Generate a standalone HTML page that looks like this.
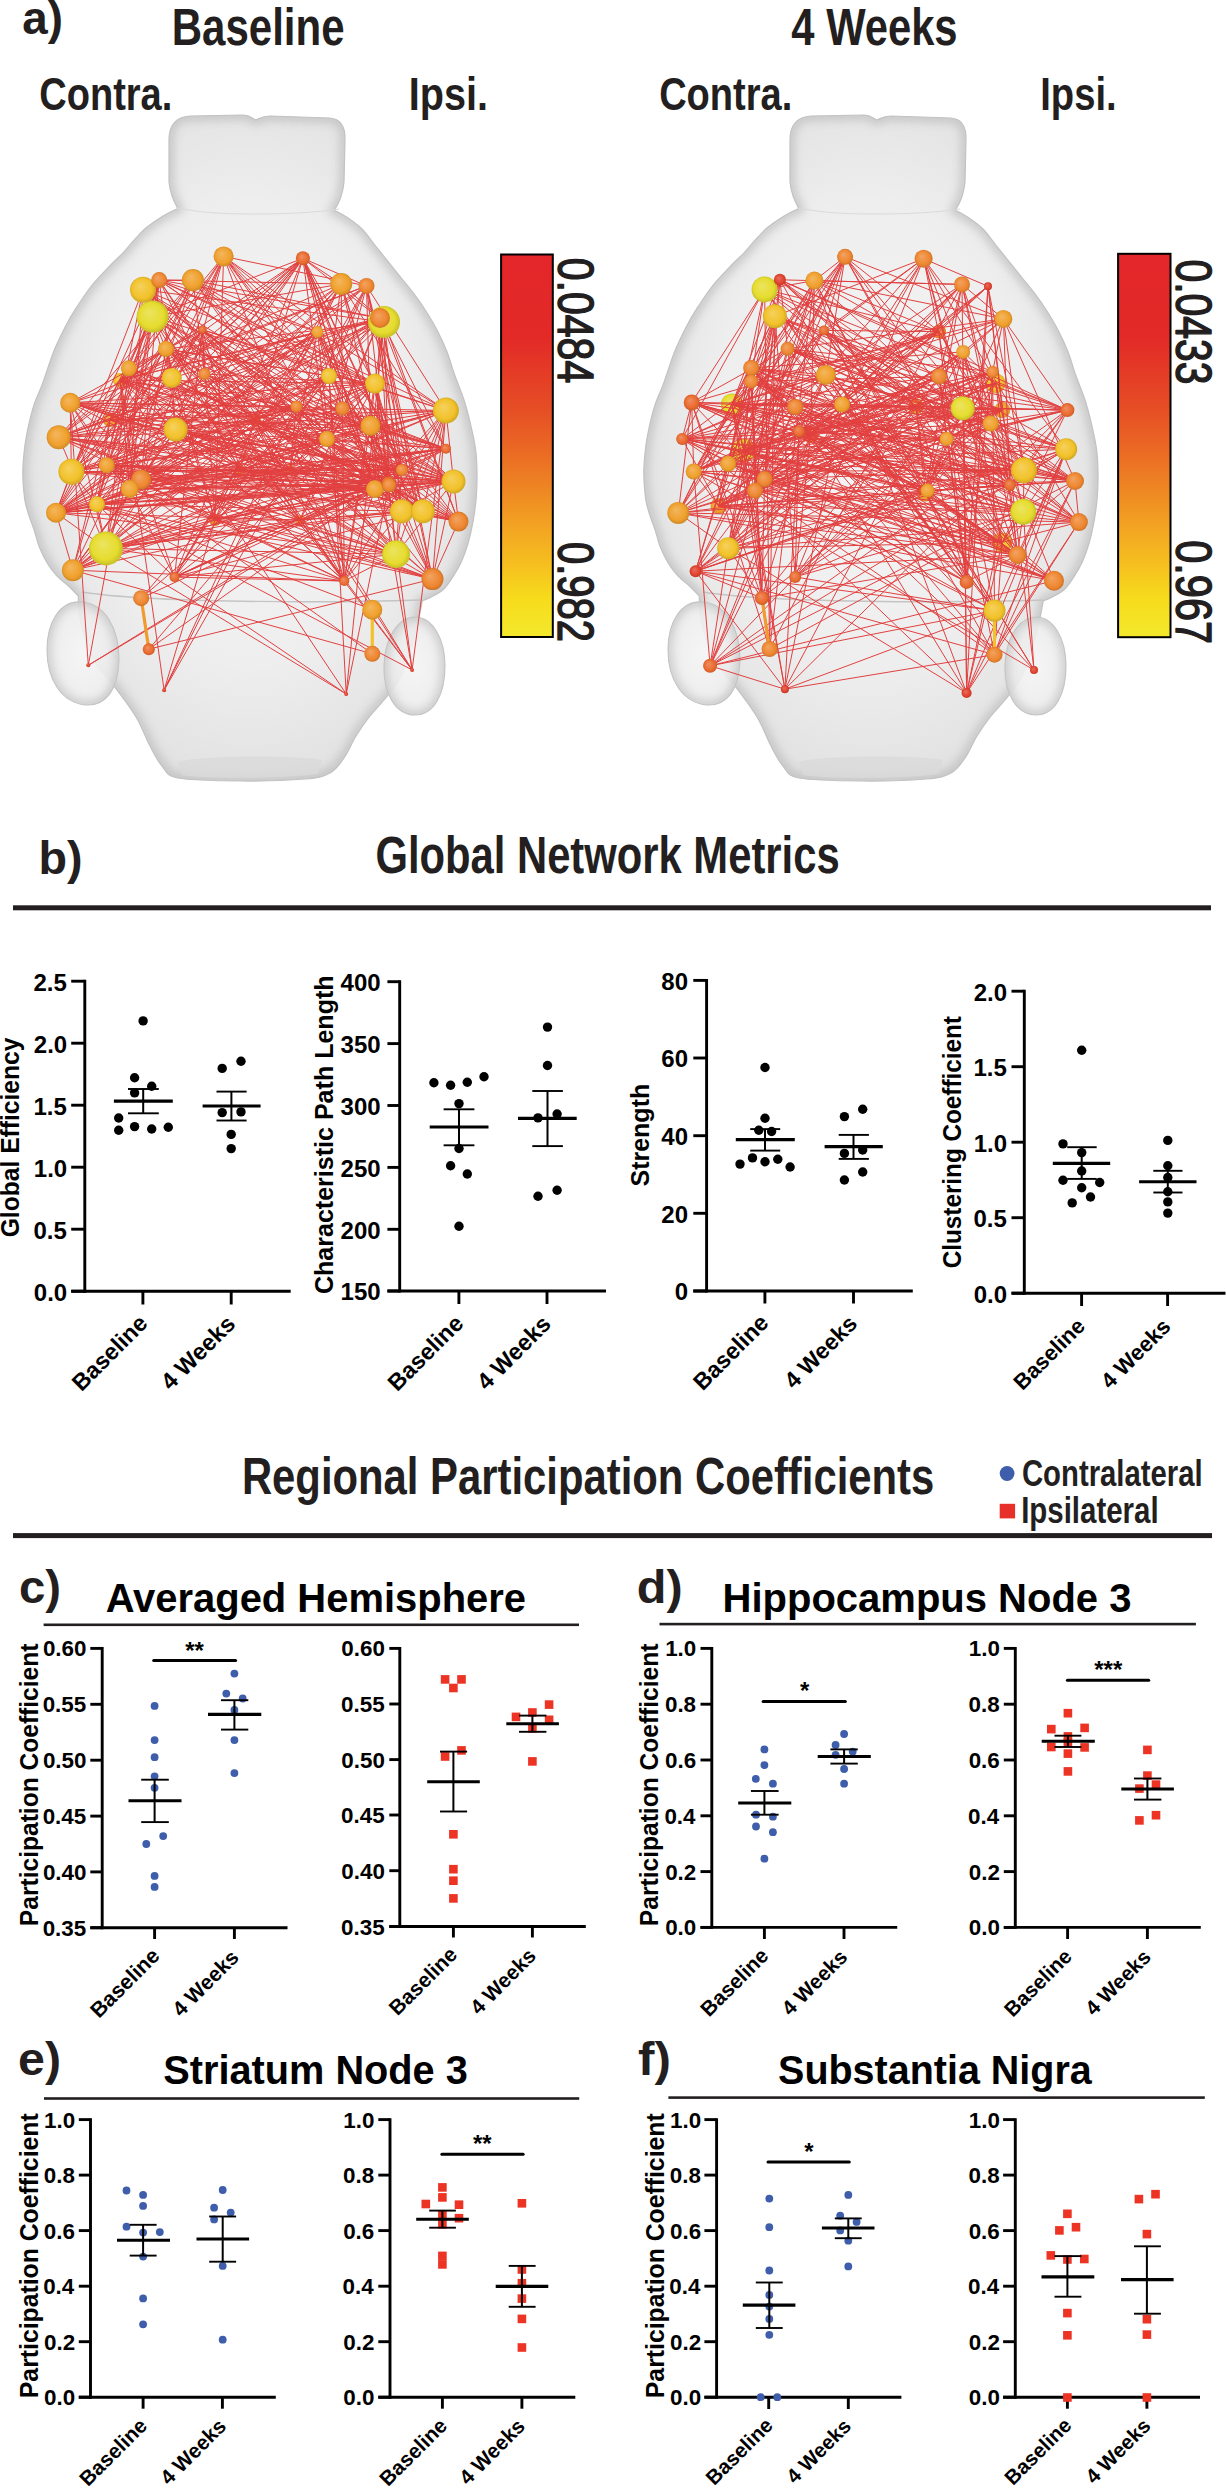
<!DOCTYPE html>
<html><head><meta charset="utf-8"><style>
html,body{margin:0;padding:0;background:#fff;}
svg{display:block;}
text{font-family:"Liberation Sans",sans-serif;}
</style></head><body>
<svg width="1226" height="2488" viewBox="0 0 1226 2488">
<defs>
<linearGradient id="cbar" x1="0" y1="0" x2="0" y2="1">
<stop offset="0" stop-color="#e3262a"/><stop offset="0.22" stop-color="#e32a27"/><stop offset="0.40" stop-color="#e64d25"/>
<stop offset="0.52" stop-color="#eb6b24"/><stop offset="0.62" stop-color="#ee8823"/><stop offset="0.72" stop-color="#f3a622"/>
<stop offset="0.82" stop-color="#f6c21f"/><stop offset="0.90" stop-color="#f6dc1c"/><stop offset="1" stop-color="#f4e82c"/>
</linearGradient>
<clipPath id="bclip"><path d="M 169,140 C 169,124 176,117 190,116 L 243,115 C 250,115 253,119 256,120 C 259,119 262,116 270,116 L 330,118 C 340,119 345,126 345,138 L 344,182 C 343,192 340,202 334.3,210.2 C 336.5,211.4 342.7,214.4 347.3,217.5 C 351.9,220.6 357.4,224.4 362.0,229.0 C 366.6,233.6 370.6,239.9 375.0,245.3 C 379.4,250.7 383.8,256.2 388.1,261.6 C 392.5,267.0 396.8,272.5 401.1,277.9 C 405.5,283.3 410.1,288.8 414.2,294.2 C 418.3,299.6 421.8,304.5 425.6,310.5 C 429.4,316.5 433.5,323.2 437.0,330.0 C 440.5,336.8 443.8,343.7 446.8,351.3 C 449.8,358.9 452.1,367.7 455.0,375.8 C 457.9,383.9 461.5,392.3 464.0,400.0 C 466.5,407.7 468.1,413.9 470.0,422.0 C 471.9,430.1 474.3,440.3 475.5,448.9 C 476.7,457.5 476.9,465.2 477.0,473.4 C 477.1,481.6 476.9,489.8 476.2,497.9 C 475.5,506.0 474.3,514.7 472.9,522.3 C 471.5,529.9 469.9,537.1 468.0,543.6 C 466.1,550.1 463.9,556.1 461.5,561.5 C 459.1,566.9 456.3,571.6 453.3,576.2 C 450.3,580.8 447.4,585.7 443.6,589.2 C 439.8,592.7 434.1,595.5 430.5,597.4 C 426.9,599.3 423.7,600.2 422.3,600.7 C 421.6,604.2 420.1,613.5 418.0,622.0 C 415.9,630.5 413.0,642.7 410.0,652.0 C 407.0,661.3 404.3,670.0 400.0,678.0 C 395.7,686.0 389.0,693.7 384.0,700.0 C 379.0,706.3 374.7,710.0 370.0,716.0 C 365.3,722.0 360.3,729.0 356.0,736.0 C 351.7,743.0 348.3,751.8 344.0,758.0 C 339.7,764.2 336.5,769.5 330.0,773.0 C 323.5,776.5 320.0,777.7 305.0,779.0 C 290.0,780.3 261.2,781.2 240.0,781.0 C 218.8,780.8 191.0,780.5 178.0,778.0 C 165.0,775.5 166.7,771.3 162.0,766.0 C 157.3,760.7 154.3,754.2 150.0,746.0 C 145.7,737.8 142.0,727.0 136.0,717.0 C 130.0,707.0 120.7,694.8 114.0,686.0 C 107.3,677.2 101.0,672.3 96.0,664.0 C 91.0,655.7 86.8,644.7 84.0,636.0 C 81.2,627.3 80.0,618.7 79.0,612.0 C 78.0,605.3 78.4,598.7 78.3,596.0 C 76.7,594.3 72.0,589.3 68.5,586.0 C 65.0,582.7 60.6,580.0 57.1,576.2 C 53.6,572.4 50.3,568.0 47.3,563.1 C 44.3,558.2 41.4,552.2 39.2,546.8 C 37.0,541.4 36.1,535.9 34.3,530.5 C 32.5,525.1 30.1,519.6 28.5,514.2 C 26.9,508.8 25.4,504.7 24.5,497.9 C 23.6,491.1 22.8,481.6 22.8,473.4 C 22.8,465.2 23.6,456.8 24.5,448.9 C 25.4,441.0 26.9,433.3 28.5,426.0 C 30.1,418.7 31.7,412.0 34.0,405.0 C 36.3,398.0 39.1,392.8 42.4,383.9 C 45.7,374.9 50.0,360.8 53.8,351.3 C 57.6,341.8 61.5,334.2 65.3,326.8 C 69.1,319.4 72.3,314.0 76.7,307.2 C 81.1,300.4 86.2,292.5 91.4,286.0 C 96.6,279.5 102.3,273.8 107.7,268.1 C 113.1,262.4 119.4,256.7 124.0,251.8 C 128.6,246.9 131.6,242.8 135.4,238.7 C 139.2,234.6 142.2,231.1 146.8,227.3 C 151.4,223.5 157.9,219.0 163.1,215.9 C 168.3,212.8 175.4,209.7 177.8,208.5 C 174,202 170,192 169,182 Z"/></clipPath>
<clipPath id="lclip"><path d="M 82,602 C 60,600 47,622 47,650 C 47,680 62,703 86,705 C 106,706 118,690 119,660 C 119,628 105,604 82,602 Z"/></clipPath>
<clipPath id="rclip"><path d="M 415,617 C 398,617 385,638 384,665 C 383,694 396,715 415,715 C 434,715 445,694 445,666 C 445,638 432,617 415,617 Z"/></clipPath>
<filter id="soft" x="-10%" y="-10%" width="120%" height="120%"><feGaussianBlur stdDeviation="4"/></filter>
<radialGradient id="brainfill" cx="50%" cy="48%" r="58%">
<stop offset="0" stop-color="#f5f5f5"/><stop offset="0.6" stop-color="#eeeeee"/><stop offset="0.88" stop-color="#e3e3e3"/><stop offset="1" stop-color="#d3d3d3"/>
</radialGradient>
<radialGradient id="lobefill" cx="50%" cy="50%" r="60%">
<stop offset="0" stop-color="#f4f4f4"/><stop offset="0.75" stop-color="#ececec"/><stop offset="1" stop-color="#dadada"/>
</radialGradient>
<radialGradient id="g0" cx="50%" cy="50%" r="55%" fx="38%" fy="35%"><stop offset="0" stop-color="#f3b760"/><stop offset="0.7" stop-color="#f0a02c"/><stop offset="1" stop-color="#c48324"/></radialGradient><radialGradient id="g1" cx="50%" cy="50%" r="55%" fx="38%" fy="35%"><stop offset="0" stop-color="#f5d15f"/><stop offset="0.7" stop-color="#f2c22a"/><stop offset="1" stop-color="#c69f22"/></radialGradient><radialGradient id="g2" cx="50%" cy="50%" r="55%" fx="38%" fy="35%"><stop offset="0" stop-color="#f2a463"/><stop offset="0.7" stop-color="#ee8630"/><stop offset="1" stop-color="#c36d27"/></radialGradient><radialGradient id="g3" cx="50%" cy="50%" r="55%" fx="38%" fy="35%"><stop offset="0" stop-color="#ece462"/><stop offset="0.7" stop-color="#e6dc2e"/><stop offset="1" stop-color="#bcb425"/></radialGradient><radialGradient id="g4" cx="50%" cy="50%" r="55%" fx="38%" fy="35%"><stop offset="0" stop-color="#ef8f62"/><stop offset="0.7" stop-color="#ea6a2e"/><stop offset="1" stop-color="#bf5625"/></radialGradient><radialGradient id="g5" cx="50%" cy="50%" r="55%" fx="38%" fy="35%"><stop offset="0" stop-color="#e76f60"/><stop offset="0.7" stop-color="#e0402c"/><stop offset="1" stop-color="#b73424"/></radialGradient>
</defs>
<rect width="1226" height="2488" fill="#fff"/>
<text transform="translate(22.36,34.20) scale(0.9956,1)" font-size="46" font-weight="bold" fill="#231f20">a)</text>
<text transform="translate(171.69,45.00) scale(0.8212,1)" font-size="51.2" font-weight="bold" fill="#231f20">Baseline</text>
<text transform="translate(791.37,45.30) scale(0.8146,1)" font-size="51.2" font-weight="bold" fill="#231f20">4 Weeks</text>
<text transform="translate(39.24,109.50) scale(0.8266,1)" font-size="46" font-weight="bold" fill="#231f20">Contra.</text>
<text transform="translate(408.75,109.80) scale(0.8604,1)" font-size="46" font-weight="bold" fill="#231f20">Ipsi.</text>
<text transform="translate(659.14,109.50) scale(0.8272,1)" font-size="46" font-weight="bold" fill="#231f20">Contra.</text>
<text transform="translate(1040.25,109.80) scale(0.8300,1)" font-size="46" font-weight="bold" fill="#231f20">Ipsi.</text>
<g transform="translate(0,0)">
<path d="M 169,140 C 169,124 176,117 190,116 L 243,115 C 250,115 253,119 256,120 C 259,119 262,116 270,116 L 330,118 C 340,119 345,126 345,138 L 344,182 C 343,192 340,202 334.3,210.2 C 336.5,211.4 342.7,214.4 347.3,217.5 C 351.9,220.6 357.4,224.4 362.0,229.0 C 366.6,233.6 370.6,239.9 375.0,245.3 C 379.4,250.7 383.8,256.2 388.1,261.6 C 392.5,267.0 396.8,272.5 401.1,277.9 C 405.5,283.3 410.1,288.8 414.2,294.2 C 418.3,299.6 421.8,304.5 425.6,310.5 C 429.4,316.5 433.5,323.2 437.0,330.0 C 440.5,336.8 443.8,343.7 446.8,351.3 C 449.8,358.9 452.1,367.7 455.0,375.8 C 457.9,383.9 461.5,392.3 464.0,400.0 C 466.5,407.7 468.1,413.9 470.0,422.0 C 471.9,430.1 474.3,440.3 475.5,448.9 C 476.7,457.5 476.9,465.2 477.0,473.4 C 477.1,481.6 476.9,489.8 476.2,497.9 C 475.5,506.0 474.3,514.7 472.9,522.3 C 471.5,529.9 469.9,537.1 468.0,543.6 C 466.1,550.1 463.9,556.1 461.5,561.5 C 459.1,566.9 456.3,571.6 453.3,576.2 C 450.3,580.8 447.4,585.7 443.6,589.2 C 439.8,592.7 434.1,595.5 430.5,597.4 C 426.9,599.3 423.7,600.2 422.3,600.7 C 421.6,604.2 420.1,613.5 418.0,622.0 C 415.9,630.5 413.0,642.7 410.0,652.0 C 407.0,661.3 404.3,670.0 400.0,678.0 C 395.7,686.0 389.0,693.7 384.0,700.0 C 379.0,706.3 374.7,710.0 370.0,716.0 C 365.3,722.0 360.3,729.0 356.0,736.0 C 351.7,743.0 348.3,751.8 344.0,758.0 C 339.7,764.2 336.5,769.5 330.0,773.0 C 323.5,776.5 320.0,777.7 305.0,779.0 C 290.0,780.3 261.2,781.2 240.0,781.0 C 218.8,780.8 191.0,780.5 178.0,778.0 C 165.0,775.5 166.7,771.3 162.0,766.0 C 157.3,760.7 154.3,754.2 150.0,746.0 C 145.7,737.8 142.0,727.0 136.0,717.0 C 130.0,707.0 120.7,694.8 114.0,686.0 C 107.3,677.2 101.0,672.3 96.0,664.0 C 91.0,655.7 86.8,644.7 84.0,636.0 C 81.2,627.3 80.0,618.7 79.0,612.0 C 78.0,605.3 78.4,598.7 78.3,596.0 C 76.7,594.3 72.0,589.3 68.5,586.0 C 65.0,582.7 60.6,580.0 57.1,576.2 C 53.6,572.4 50.3,568.0 47.3,563.1 C 44.3,558.2 41.4,552.2 39.2,546.8 C 37.0,541.4 36.1,535.9 34.3,530.5 C 32.5,525.1 30.1,519.6 28.5,514.2 C 26.9,508.8 25.4,504.7 24.5,497.9 C 23.6,491.1 22.8,481.6 22.8,473.4 C 22.8,465.2 23.6,456.8 24.5,448.9 C 25.4,441.0 26.9,433.3 28.5,426.0 C 30.1,418.7 31.7,412.0 34.0,405.0 C 36.3,398.0 39.1,392.8 42.4,383.9 C 45.7,374.9 50.0,360.8 53.8,351.3 C 57.6,341.8 61.5,334.2 65.3,326.8 C 69.1,319.4 72.3,314.0 76.7,307.2 C 81.1,300.4 86.2,292.5 91.4,286.0 C 96.6,279.5 102.3,273.8 107.7,268.1 C 113.1,262.4 119.4,256.7 124.0,251.8 C 128.6,246.9 131.6,242.8 135.4,238.7 C 139.2,234.6 142.2,231.1 146.8,227.3 C 151.4,223.5 157.9,219.0 163.1,215.9 C 168.3,212.8 175.4,209.7 177.8,208.5 C 174,202 170,192 169,182 Z" fill="url(#brainfill)"/>
<path d="M 169,140 C 169,124 176,117 190,116 L 243,115 C 250,115 253,119 256,120 C 259,119 262,116 270,116 L 330,118 C 340,119 345,126 345,138 L 344,182 C 343,192 340,202 334.3,210.2 C 336.5,211.4 342.7,214.4 347.3,217.5 C 351.9,220.6 357.4,224.4 362.0,229.0 C 366.6,233.6 370.6,239.9 375.0,245.3 C 379.4,250.7 383.8,256.2 388.1,261.6 C 392.5,267.0 396.8,272.5 401.1,277.9 C 405.5,283.3 410.1,288.8 414.2,294.2 C 418.3,299.6 421.8,304.5 425.6,310.5 C 429.4,316.5 433.5,323.2 437.0,330.0 C 440.5,336.8 443.8,343.7 446.8,351.3 C 449.8,358.9 452.1,367.7 455.0,375.8 C 457.9,383.9 461.5,392.3 464.0,400.0 C 466.5,407.7 468.1,413.9 470.0,422.0 C 471.9,430.1 474.3,440.3 475.5,448.9 C 476.7,457.5 476.9,465.2 477.0,473.4 C 477.1,481.6 476.9,489.8 476.2,497.9 C 475.5,506.0 474.3,514.7 472.9,522.3 C 471.5,529.9 469.9,537.1 468.0,543.6 C 466.1,550.1 463.9,556.1 461.5,561.5 C 459.1,566.9 456.3,571.6 453.3,576.2 C 450.3,580.8 447.4,585.7 443.6,589.2 C 439.8,592.7 434.1,595.5 430.5,597.4 C 426.9,599.3 423.7,600.2 422.3,600.7 C 421.6,604.2 420.1,613.5 418.0,622.0 C 415.9,630.5 413.0,642.7 410.0,652.0 C 407.0,661.3 404.3,670.0 400.0,678.0 C 395.7,686.0 389.0,693.7 384.0,700.0 C 379.0,706.3 374.7,710.0 370.0,716.0 C 365.3,722.0 360.3,729.0 356.0,736.0 C 351.7,743.0 348.3,751.8 344.0,758.0 C 339.7,764.2 336.5,769.5 330.0,773.0 C 323.5,776.5 320.0,777.7 305.0,779.0 C 290.0,780.3 261.2,781.2 240.0,781.0 C 218.8,780.8 191.0,780.5 178.0,778.0 C 165.0,775.5 166.7,771.3 162.0,766.0 C 157.3,760.7 154.3,754.2 150.0,746.0 C 145.7,737.8 142.0,727.0 136.0,717.0 C 130.0,707.0 120.7,694.8 114.0,686.0 C 107.3,677.2 101.0,672.3 96.0,664.0 C 91.0,655.7 86.8,644.7 84.0,636.0 C 81.2,627.3 80.0,618.7 79.0,612.0 C 78.0,605.3 78.4,598.7 78.3,596.0 C 76.7,594.3 72.0,589.3 68.5,586.0 C 65.0,582.7 60.6,580.0 57.1,576.2 C 53.6,572.4 50.3,568.0 47.3,563.1 C 44.3,558.2 41.4,552.2 39.2,546.8 C 37.0,541.4 36.1,535.9 34.3,530.5 C 32.5,525.1 30.1,519.6 28.5,514.2 C 26.9,508.8 25.4,504.7 24.5,497.9 C 23.6,491.1 22.8,481.6 22.8,473.4 C 22.8,465.2 23.6,456.8 24.5,448.9 C 25.4,441.0 26.9,433.3 28.5,426.0 C 30.1,418.7 31.7,412.0 34.0,405.0 C 36.3,398.0 39.1,392.8 42.4,383.9 C 45.7,374.9 50.0,360.8 53.8,351.3 C 57.6,341.8 61.5,334.2 65.3,326.8 C 69.1,319.4 72.3,314.0 76.7,307.2 C 81.1,300.4 86.2,292.5 91.4,286.0 C 96.6,279.5 102.3,273.8 107.7,268.1 C 113.1,262.4 119.4,256.7 124.0,251.8 C 128.6,246.9 131.6,242.8 135.4,238.7 C 139.2,234.6 142.2,231.1 146.8,227.3 C 151.4,223.5 157.9,219.0 163.1,215.9 C 168.3,212.8 175.4,209.7 177.8,208.5 C 174,202 170,192 169,182 Z" fill="none" stroke="#bdbdbd" stroke-width="10" clip-path="url(#bclip)" filter="url(#soft)" opacity="0.75"/>
<path d="M 169,140 C 169,124 176,117 190,116 L 243,115 C 250,115 253,119 256,120 C 259,119 262,116 270,116 L 330,118 C 340,119 345,126 345,138 L 344,182 C 343,192 340,202 334.3,210.2 C 336.5,211.4 342.7,214.4 347.3,217.5 C 351.9,220.6 357.4,224.4 362.0,229.0 C 366.6,233.6 370.6,239.9 375.0,245.3 C 379.4,250.7 383.8,256.2 388.1,261.6 C 392.5,267.0 396.8,272.5 401.1,277.9 C 405.5,283.3 410.1,288.8 414.2,294.2 C 418.3,299.6 421.8,304.5 425.6,310.5 C 429.4,316.5 433.5,323.2 437.0,330.0 C 440.5,336.8 443.8,343.7 446.8,351.3 C 449.8,358.9 452.1,367.7 455.0,375.8 C 457.9,383.9 461.5,392.3 464.0,400.0 C 466.5,407.7 468.1,413.9 470.0,422.0 C 471.9,430.1 474.3,440.3 475.5,448.9 C 476.7,457.5 476.9,465.2 477.0,473.4 C 477.1,481.6 476.9,489.8 476.2,497.9 C 475.5,506.0 474.3,514.7 472.9,522.3 C 471.5,529.9 469.9,537.1 468.0,543.6 C 466.1,550.1 463.9,556.1 461.5,561.5 C 459.1,566.9 456.3,571.6 453.3,576.2 C 450.3,580.8 447.4,585.7 443.6,589.2 C 439.8,592.7 434.1,595.5 430.5,597.4 C 426.9,599.3 423.7,600.2 422.3,600.7 C 421.6,604.2 420.1,613.5 418.0,622.0 C 415.9,630.5 413.0,642.7 410.0,652.0 C 407.0,661.3 404.3,670.0 400.0,678.0 C 395.7,686.0 389.0,693.7 384.0,700.0 C 379.0,706.3 374.7,710.0 370.0,716.0 C 365.3,722.0 360.3,729.0 356.0,736.0 C 351.7,743.0 348.3,751.8 344.0,758.0 C 339.7,764.2 336.5,769.5 330.0,773.0 C 323.5,776.5 320.0,777.7 305.0,779.0 C 290.0,780.3 261.2,781.2 240.0,781.0 C 218.8,780.8 191.0,780.5 178.0,778.0 C 165.0,775.5 166.7,771.3 162.0,766.0 C 157.3,760.7 154.3,754.2 150.0,746.0 C 145.7,737.8 142.0,727.0 136.0,717.0 C 130.0,707.0 120.7,694.8 114.0,686.0 C 107.3,677.2 101.0,672.3 96.0,664.0 C 91.0,655.7 86.8,644.7 84.0,636.0 C 81.2,627.3 80.0,618.7 79.0,612.0 C 78.0,605.3 78.4,598.7 78.3,596.0 C 76.7,594.3 72.0,589.3 68.5,586.0 C 65.0,582.7 60.6,580.0 57.1,576.2 C 53.6,572.4 50.3,568.0 47.3,563.1 C 44.3,558.2 41.4,552.2 39.2,546.8 C 37.0,541.4 36.1,535.9 34.3,530.5 C 32.5,525.1 30.1,519.6 28.5,514.2 C 26.9,508.8 25.4,504.7 24.5,497.9 C 23.6,491.1 22.8,481.6 22.8,473.4 C 22.8,465.2 23.6,456.8 24.5,448.9 C 25.4,441.0 26.9,433.3 28.5,426.0 C 30.1,418.7 31.7,412.0 34.0,405.0 C 36.3,398.0 39.1,392.8 42.4,383.9 C 45.7,374.9 50.0,360.8 53.8,351.3 C 57.6,341.8 61.5,334.2 65.3,326.8 C 69.1,319.4 72.3,314.0 76.7,307.2 C 81.1,300.4 86.2,292.5 91.4,286.0 C 96.6,279.5 102.3,273.8 107.7,268.1 C 113.1,262.4 119.4,256.7 124.0,251.8 C 128.6,246.9 131.6,242.8 135.4,238.7 C 139.2,234.6 142.2,231.1 146.8,227.3 C 151.4,223.5 157.9,219.0 163.1,215.9 C 168.3,212.8 175.4,209.7 177.8,208.5 C 174,202 170,192 169,182 Z" fill="none" stroke="#c2c2c2" stroke-width="1.2"/>
<path d="M 82,602 C 60,600 47,622 47,650 C 47,680 62,703 86,705 C 106,706 118,690 119,660 C 119,628 105,604 82,602 Z" fill="url(#lobefill)" fill-opacity="0.9"/>
<path d="M 82,602 C 60,600 47,622 47,650 C 47,680 62,703 86,705 C 106,706 118,690 119,660 C 119,628 105,604 82,602 Z" fill="none" stroke="#bdbdbd" stroke-width="8" clip-path="url(#lclip)" filter="url(#soft)" opacity="0.7"/>
<path d="M 82,602 C 60,600 47,622 47,650 C 47,680 62,703 86,705 C 106,706 118,690 119,660 C 119,628 105,604 82,602 Z" fill="none" stroke="#c4c4c4" stroke-width="1.1"/>
<path d="M 415,617 C 398,617 385,638 384,665 C 383,694 396,715 415,715 C 434,715 445,694 445,666 C 445,638 432,617 415,617 Z" fill="url(#lobefill)" fill-opacity="0.9"/>
<path d="M 415,617 C 398,617 385,638 384,665 C 383,694 396,715 415,715 C 434,715 445,694 445,666 C 445,638 432,617 415,617 Z" fill="none" stroke="#bdbdbd" stroke-width="8" clip-path="url(#rclip)" filter="url(#soft)" opacity="0.7"/>
<path d="M 415,617 C 398,617 385,638 384,665 C 383,694 396,715 415,715 C 434,715 445,694 445,666 C 445,638 432,617 415,617 Z" fill="none" stroke="#c4c4c4" stroke-width="1.1"/>
<path d="M 178,762 C 200,755 300,755 322,760 L 318,774 C 280,779 205,779 182,775 Z" fill="#dadada" opacity="0.8"/>
<path d="M 82,592 C 150,603 330,603 422,600" fill="none" stroke="#c4c4c4" stroke-width="1.4"/>
<path d="M 176,208 C 200,212 215,214 256,214 C 290,214 320,212 339,209" fill="none" stroke="#dadada" stroke-width="1"/>
</g>
<circle cx="110" cy="420" r="7" fill="url(#g0)"/>
<circle cx="120" cy="380" r="7" fill="url(#g1)"/>
<circle cx="255" cy="420" r="6" fill="url(#g0)"/>
<circle cx="215" cy="520" r="6" fill="url(#g2)"/>
<circle cx="240" cy="470" r="5" fill="url(#g2)"/>
<circle cx="290" cy="470" r="5" fill="url(#g0)"/>
<circle cx="300" cy="520" r="5" fill="url(#g0)"/>
<path d="M223.6 256.4L366.5 285.9 M223.6 256.4L166.0 349.0 M223.6 256.4L171.8 377.9 M223.6 256.4L175.6 429.6 M223.6 256.4L445.9 410.5 M223.6 256.4L329.0 376.0 M223.6 256.4L317.5 331.9 M223.6 256.4L327.0 439.0 M223.6 256.4L453.5 481.4 M223.6 256.4L141.2 479.5 M223.6 256.4L72.9 570.2 M223.6 256.4L344.3 581.0 M223.6 256.4L422.9 511.2 M223.6 256.4L389.1 485.2 M223.6 256.4L215.0 520.0 M223.6 256.4L110.0 420.0 M223.6 256.4L120.0 380.0 M302.9 258.3L152.6 316.6 M302.9 258.3L341.2 284.0 M302.9 258.3L366.5 285.9 M302.9 258.3L384.0 322.0 M302.9 258.3L204.4 374.0 M302.9 258.3L171.8 377.9 M302.9 258.3L58.7 437.3 M302.9 258.3L71.4 471.7 M302.9 258.3L342.4 408.5 M302.9 258.3L370.4 425.8 M302.9 258.3L375.0 383.6 M302.9 258.3L327.0 439.0 M302.9 258.3L401.8 469.9 M302.9 258.3L375.0 489.0 M302.9 258.3L106.7 465.2 M302.9 258.3L97.0 504.3 M302.9 258.3L105.9 548.4 M302.9 258.3L72.9 570.2 M302.9 258.3L174.5 577.1 M302.9 258.3L432.5 579.1 M302.9 258.3L396.0 554.2 M302.9 258.3L422.9 511.2 M302.9 258.3L389.1 485.2 M302.9 258.3L240.0 470.0 M302.9 258.3L110.0 420.0 M302.9 258.3L120.0 380.0 M159.2 280.1L192.9 280.1 M159.2 280.1L341.2 284.0 M159.2 280.1L380.0 318.0 M159.2 280.1L204.4 374.0 M159.2 280.1L128.9 368.3 M159.2 280.1L171.8 377.9 M159.2 280.1L71.4 471.7 M159.2 280.1L342.4 408.5 M159.2 280.1L370.4 425.8 M159.2 280.1L445.9 410.5 M159.2 280.1L375.0 383.6 M159.2 280.1L317.5 331.9 M159.2 280.1L141.2 479.5 M159.2 280.1L97.0 504.3 M159.2 280.1L105.9 548.4 M159.2 280.1L72.9 570.2 M159.2 280.1L88.3 665.3 M159.2 280.1L412.1 669.9 M159.2 280.1L255.0 420.0 M143.0 289.7L384.0 322.0 M143.0 289.7L296.4 406.6 M143.0 289.7L370.4 425.8 M143.0 289.7L375.0 383.6 M143.0 289.7L129.7 489.0 M143.0 289.7L401.8 469.9 M143.0 289.7L388.4 483.3 M143.0 289.7L106.7 465.2 M143.0 289.7L56.0 512.8 M143.0 289.7L396.0 554.2 M143.0 289.7L255.0 420.0 M143.0 289.7L240.0 470.0 M143.0 289.7L215.0 520.0 M143.0 289.7L300.0 520.0 M192.9 280.1L380.0 318.0 M192.9 280.1L204.4 374.0 M192.9 280.1L128.9 368.3 M192.9 280.1L58.7 437.3 M192.9 280.1L71.4 471.7 M192.9 280.1L296.4 406.6 M192.9 280.1L370.4 425.8 M192.9 280.1L329.0 376.0 M192.9 280.1L375.0 383.6 M192.9 280.1L317.5 331.9 M192.9 280.1L106.7 465.2 M192.9 280.1L97.0 504.3 M192.9 280.1L105.9 548.4 M192.9 280.1L396.0 554.2 M192.9 280.1L422.9 511.2 M152.6 316.6L341.2 284.0 M152.6 316.6L166.0 349.0 M152.6 316.6L71.4 471.7 M152.6 316.6L370.4 425.8 M152.6 316.6L445.9 410.5 M152.6 316.6L453.5 481.4 M152.6 316.6L129.7 489.0 M152.6 316.6L388.4 483.3 M152.6 316.6L375.0 489.0 M152.6 316.6L56.0 512.8 M152.6 316.6L97.0 504.3 M152.6 316.6L344.3 581.0 M152.6 316.6L422.9 511.2 M152.6 316.6L240.0 470.0 M152.6 316.6L110.0 420.0 M341.2 284.0L380.0 318.0 M341.2 284.0L71.4 471.7 M341.2 284.0L329.0 376.0 M341.2 284.0L317.5 331.9 M341.2 284.0L401.8 469.9 M341.2 284.0L388.4 483.3 M341.2 284.0L56.0 512.8 M341.2 284.0L105.9 548.4 M341.2 284.0L72.9 570.2 M341.2 284.0L174.5 577.1 M341.2 284.0L344.3 581.0 M341.2 284.0L432.5 579.1 M341.2 284.0L445.9 448.7 M341.2 284.0L255.0 420.0 M341.2 284.0L120.0 380.0 M366.5 285.9L70.2 402.8 M366.5 285.9L71.4 471.7 M366.5 285.9L296.4 406.6 M366.5 285.9L370.4 425.8 M366.5 285.9L445.9 410.5 M366.5 285.9L327.0 439.0 M366.5 285.9L129.7 489.0 M366.5 285.9L401.8 469.9 M366.5 285.9L56.0 512.8 M366.5 285.9L164.1 690.2 M366.5 285.9L432.5 579.1 M366.5 285.9L422.9 511.2 M366.5 285.9L389.1 485.2 M366.5 285.9L290.0 470.0 M366.5 285.9L120.0 380.0 M384.0 322.0L166.0 349.0 M384.0 322.0L58.7 437.3 M384.0 322.0L175.6 429.6 M384.0 322.0L296.4 406.6 M384.0 322.0L401.8 469.9 M384.0 322.0L344.3 581.0 M384.0 322.0L346.2 694.0 M384.0 322.0L458.5 521.6 M384.0 322.0L389.1 485.2 M380.0 318.0L204.4 374.0 M380.0 318.0L171.8 377.9 M380.0 318.0L58.7 437.3 M380.0 318.0L175.6 429.6 M380.0 318.0L296.4 406.6 M380.0 318.0L342.4 408.5 M380.0 318.0L129.7 489.0 M380.0 318.0L375.0 489.0 M380.0 318.0L56.0 512.8 M380.0 318.0L105.9 548.4 M380.0 318.0L141.2 598.2 M380.0 318.0L432.5 579.1 M380.0 318.0L458.5 521.6 M380.0 318.0L401.8 511.2 M380.0 318.0L422.9 511.2 M380.0 318.0L389.1 485.2 M380.0 318.0L445.9 448.7 M380.0 318.0L300.0 520.0 M380.0 318.0L120.0 380.0 M204.4 374.0L58.7 437.3 M204.4 374.0L375.0 383.6 M204.4 374.0L453.5 481.4 M204.4 374.0L141.2 479.5 M204.4 374.0L401.8 469.9 M204.4 374.0L56.0 512.8 M204.4 374.0L344.3 581.0 M204.4 374.0L432.5 579.1 M204.4 374.0L445.9 448.7 M204.4 374.0L255.0 420.0 M204.4 374.0L300.0 520.0 M204.4 374.0L202.4 329.7 M204.4 374.0L110.0 420.0 M166.0 349.0L171.8 377.9 M166.0 349.0L58.7 437.3 M166.0 349.0L175.6 429.6 M166.0 349.0L329.0 376.0 M166.0 349.0L375.0 383.6 M166.0 349.0L453.5 481.4 M166.0 349.0L141.2 479.5 M166.0 349.0L375.0 489.0 M166.0 349.0L56.0 512.8 M166.0 349.0L412.1 669.9 M166.0 349.0L432.5 579.1 M166.0 349.0L422.9 511.2 M166.0 349.0L445.9 448.7 M166.0 349.0L255.0 420.0 M166.0 349.0L290.0 470.0 M166.0 349.0L215.0 520.0 M166.0 349.0L110.0 420.0 M166.0 349.0L120.0 380.0 M128.9 368.3L175.6 429.6 M128.9 368.3L327.0 439.0 M128.9 368.3L401.8 469.9 M128.9 368.3L105.9 548.4 M128.9 368.3L346.2 694.0 M128.9 368.3L389.1 485.2 M128.9 368.3L240.0 470.0 M128.9 368.3L290.0 470.0 M128.9 368.3L202.4 329.7 M128.9 368.3L120.0 380.0 M171.8 377.9L175.6 429.6 M171.8 377.9L71.4 471.7 M171.8 377.9L396.0 554.2 M171.8 377.9L458.5 521.6 M171.8 377.9L422.9 511.2 M171.8 377.9L445.9 448.7 M171.8 377.9L255.0 420.0 M171.8 377.9L240.0 470.0 M171.8 377.9L300.0 520.0 M171.8 377.9L202.4 329.7 M70.2 402.8L175.6 429.6 M70.2 402.8L71.4 471.7 M70.2 402.8L296.4 406.6 M70.2 402.8L342.4 408.5 M70.2 402.8L370.4 425.8 M70.2 402.8L375.0 383.6 M70.2 402.8L317.5 331.9 M70.2 402.8L327.0 439.0 M70.2 402.8L453.5 481.4 M70.2 402.8L129.7 489.0 M70.2 402.8L106.7 465.2 M70.2 402.8L105.9 548.4 M70.2 402.8L88.3 665.3 M70.2 402.8L458.5 521.6 M70.2 402.8L401.8 511.2 M70.2 402.8L389.1 485.2 M70.2 402.8L290.0 470.0 M70.2 402.8L215.0 520.0 M70.2 402.8L300.0 520.0 M70.2 402.8L202.4 329.7 M58.7 437.3L296.4 406.6 M58.7 437.3L370.4 425.8 M58.7 437.3L329.0 376.0 M58.7 437.3L453.5 481.4 M58.7 437.3L141.2 479.5 M58.7 437.3L401.8 469.9 M58.7 437.3L105.9 548.4 M58.7 437.3L432.5 579.1 M58.7 437.3L396.0 554.2 M58.7 437.3L458.5 521.6 M58.7 437.3L389.1 485.2 M58.7 437.3L255.0 420.0 M58.7 437.3L240.0 470.0 M58.7 437.3L110.0 420.0 M58.7 437.3L120.0 380.0 M175.6 429.6L296.4 406.6 M175.6 429.6L445.9 410.5 M175.6 429.6L317.5 331.9 M175.6 429.6L453.5 481.4 M175.6 429.6L141.2 479.5 M175.6 429.6L401.8 469.9 M175.6 429.6L388.4 483.3 M175.6 429.6L375.0 489.0 M175.6 429.6L56.0 512.8 M175.6 429.6L97.0 504.3 M175.6 429.6L72.9 570.2 M175.6 429.6L344.3 581.0 M175.6 429.6L432.5 579.1 M175.6 429.6L396.0 554.2 M175.6 429.6L422.9 511.2 M175.6 429.6L389.1 485.2 M175.6 429.6L445.9 448.7 M175.6 429.6L255.0 420.0 M175.6 429.6L240.0 470.0 M175.6 429.6L290.0 470.0 M175.6 429.6L300.0 520.0 M71.4 471.7L342.4 408.5 M71.4 471.7L370.4 425.8 M71.4 471.7L445.9 410.5 M71.4 471.7L329.0 376.0 M71.4 471.7L375.0 383.6 M71.4 471.7L401.8 469.9 M71.4 471.7L388.4 483.3 M71.4 471.7L375.0 489.0 M71.4 471.7L56.0 512.8 M71.4 471.7L97.0 504.3 M71.4 471.7L422.9 511.2 M71.4 471.7L255.0 420.0 M71.4 471.7L240.0 470.0 M71.4 471.7L290.0 470.0 M71.4 471.7L202.4 329.7 M71.4 471.7L120.0 380.0 M296.4 406.6L370.4 425.8 M296.4 406.6L329.0 376.0 M296.4 406.6L141.2 479.5 M296.4 406.6L106.7 465.2 M296.4 406.6L97.0 504.3 M296.4 406.6L72.9 570.2 M296.4 406.6L164.1 690.2 M296.4 406.6L344.3 581.0 M296.4 406.6L432.5 579.1 M296.4 406.6L401.8 511.2 M296.4 406.6L445.9 448.7 M296.4 406.6L255.0 420.0 M296.4 406.6L290.0 470.0 M296.4 406.6L215.0 520.0 M296.4 406.6L202.4 329.7 M296.4 406.6L120.0 380.0 M342.4 408.5L445.9 410.5 M342.4 408.5L375.0 383.6 M342.4 408.5L327.0 439.0 M342.4 408.5L401.8 469.9 M342.4 408.5L432.5 579.1 M342.4 408.5L445.9 448.7 M342.4 408.5L240.0 470.0 M342.4 408.5L290.0 470.0 M342.4 408.5L110.0 420.0 M370.4 425.8L329.0 376.0 M370.4 425.8L375.0 383.6 M370.4 425.8L327.0 439.0 M370.4 425.8L453.5 481.4 M370.4 425.8L375.0 489.0 M370.4 425.8L56.0 512.8 M370.4 425.8L174.5 577.1 M370.4 425.8L344.3 581.0 M370.4 425.8L412.1 669.9 M370.4 425.8L458.5 521.6 M370.4 425.8L401.8 511.2 M370.4 425.8L389.1 485.2 M370.4 425.8L445.9 448.7 M370.4 425.8L240.0 470.0 M370.4 425.8L110.0 420.0 M370.4 425.8L120.0 380.0 M445.9 410.5L317.5 331.9 M445.9 410.5L453.5 481.4 M445.9 410.5L129.7 489.0 M445.9 410.5L375.0 489.0 M445.9 410.5L56.0 512.8 M445.9 410.5L105.9 548.4 M445.9 410.5L72.9 570.2 M445.9 410.5L344.3 581.0 M445.9 410.5L412.1 669.9 M445.9 410.5L432.5 579.1 M445.9 410.5L396.0 554.2 M445.9 410.5L401.8 511.2 M445.9 410.5L422.9 511.2 M445.9 410.5L389.1 485.2 M445.9 410.5L240.0 470.0 M445.9 410.5L202.4 329.7 M445.9 410.5L110.0 420.0 M329.0 376.0L317.5 331.9 M329.0 376.0L453.5 481.4 M329.0 376.0L375.0 489.0 M329.0 376.0L56.0 512.8 M329.0 376.0L97.0 504.3 M329.0 376.0L72.9 570.2 M329.0 376.0L174.5 577.1 M329.0 376.0L344.3 581.0 M329.0 376.0L346.2 694.0 M329.0 376.0L422.9 511.2 M329.0 376.0L255.0 420.0 M375.0 383.6L327.0 439.0 M375.0 383.6L141.2 479.5 M375.0 383.6L401.8 469.9 M375.0 383.6L97.0 504.3 M375.0 383.6L72.9 570.2 M375.0 383.6L148.8 649.2 M375.0 383.6L412.1 669.9 M375.0 383.6L401.8 511.2 M375.0 383.6L389.1 485.2 M375.0 383.6L215.0 520.0 M375.0 383.6L300.0 520.0 M375.0 383.6L202.4 329.7 M375.0 383.6L110.0 420.0 M375.0 383.6L120.0 380.0 M317.5 331.9L141.2 479.5 M317.5 331.9L401.8 469.9 M317.5 331.9L375.0 489.0 M317.5 331.9L106.7 465.2 M317.5 331.9L56.0 512.8 M317.5 331.9L174.5 577.1 M317.5 331.9L344.3 581.0 M317.5 331.9L458.5 521.6 M317.5 331.9L401.8 511.2 M317.5 331.9L389.1 485.2 M317.5 331.9L255.0 420.0 M317.5 331.9L290.0 470.0 M317.5 331.9L215.0 520.0 M317.5 331.9L120.0 380.0 M327.0 439.0L453.5 481.4 M327.0 439.0L129.7 489.0 M327.0 439.0L375.0 489.0 M327.0 439.0L106.7 465.2 M327.0 439.0L105.9 548.4 M327.0 439.0L141.2 598.2 M327.0 439.0L458.5 521.6 M327.0 439.0L401.8 511.2 M327.0 439.0L422.9 511.2 M327.0 439.0L445.9 448.7 M327.0 439.0L255.0 420.0 M327.0 439.0L240.0 470.0 M327.0 439.0L215.0 520.0 M453.5 481.4L141.2 479.5 M453.5 481.4L129.7 489.0 M453.5 481.4L401.8 469.9 M453.5 481.4L375.0 489.0 M453.5 481.4L106.7 465.2 M453.5 481.4L56.0 512.8 M453.5 481.4L97.0 504.3 M453.5 481.4L105.9 548.4 M453.5 481.4L432.5 579.1 M453.5 481.4L396.0 554.2 M453.5 481.4L458.5 521.6 M453.5 481.4L401.8 511.2 M453.5 481.4L389.1 485.2 M453.5 481.4L240.0 470.0 M453.5 481.4L290.0 470.0 M453.5 481.4L215.0 520.0 M453.5 481.4L300.0 520.0 M453.5 481.4L202.4 329.7 M453.5 481.4L120.0 380.0 M141.2 479.5L129.7 489.0 M141.2 479.5L401.8 469.9 M141.2 479.5L375.0 489.0 M141.2 479.5L56.0 512.8 M141.2 479.5L72.9 570.2 M141.2 479.5L174.5 577.1 M141.2 479.5L432.5 579.1 M141.2 479.5L396.0 554.2 M141.2 479.5L445.9 448.7 M141.2 479.5L290.0 470.0 M141.2 479.5L120.0 380.0 M129.7 489.0L388.4 483.3 M129.7 489.0L375.0 489.0 M129.7 489.0L106.7 465.2 M129.7 489.0L56.0 512.8 M129.7 489.0L97.0 504.3 M129.7 489.0L105.9 548.4 M129.7 489.0L174.5 577.1 M129.7 489.0L432.5 579.1 M129.7 489.0L389.1 485.2 M129.7 489.0L445.9 448.7 M129.7 489.0L255.0 420.0 M129.7 489.0L240.0 470.0 M129.7 489.0L290.0 470.0 M129.7 489.0L215.0 520.0 M129.7 489.0L120.0 380.0 M401.8 469.9L388.4 483.3 M401.8 469.9L375.0 489.0 M401.8 469.9L106.7 465.2 M401.8 469.9L105.9 548.4 M401.8 469.9L174.5 577.1 M401.8 469.9L396.0 554.2 M401.8 469.9L458.5 521.6 M401.8 469.9L389.1 485.2 M401.8 469.9L255.0 420.0 M401.8 469.9L240.0 470.0 M401.8 469.9L215.0 520.0 M401.8 469.9L300.0 520.0 M401.8 469.9L110.0 420.0 M401.8 469.9L120.0 380.0 M388.4 483.3L375.0 489.0 M388.4 483.3L56.0 512.8 M388.4 483.3L97.0 504.3 M388.4 483.3L174.5 577.1 M388.4 483.3L396.0 554.2 M388.4 483.3L255.0 420.0 M388.4 483.3L300.0 520.0 M388.4 483.3L202.4 329.7 M375.0 489.0L106.7 465.2 M375.0 489.0L56.0 512.8 M375.0 489.0L97.0 504.3 M375.0 489.0L105.9 548.4 M375.0 489.0L174.5 577.1 M375.0 489.0L141.2 598.2 M375.0 489.0L148.8 649.2 M375.0 489.0L88.3 665.3 M375.0 489.0L344.3 581.0 M375.0 489.0L458.5 521.6 M375.0 489.0L401.8 511.2 M375.0 489.0L445.9 448.7 M375.0 489.0L240.0 470.0 M375.0 489.0L215.0 520.0 M375.0 489.0L300.0 520.0 M106.7 465.2L97.0 504.3 M106.7 465.2L344.3 581.0 M106.7 465.2L372.3 653.8 M106.7 465.2L396.0 554.2 M106.7 465.2L401.8 511.2 M106.7 465.2L389.1 485.2 M106.7 465.2L240.0 470.0 M106.7 465.2L215.0 520.0 M106.7 465.2L300.0 520.0 M106.7 465.2L202.4 329.7 M56.0 512.8L97.0 504.3 M56.0 512.8L105.9 548.4 M56.0 512.8L72.9 570.2 M56.0 512.8L396.0 554.2 M56.0 512.8L389.1 485.2 M56.0 512.8L445.9 448.7 M56.0 512.8L255.0 420.0 M56.0 512.8L290.0 470.0 M56.0 512.8L300.0 520.0 M56.0 512.8L202.4 329.7 M56.0 512.8L110.0 420.0 M97.0 504.3L105.9 548.4 M97.0 504.3L174.5 577.1 M97.0 504.3L344.3 581.0 M97.0 504.3L372.3 609.7 M97.0 504.3L412.1 669.9 M97.0 504.3L432.5 579.1 M97.0 504.3L401.8 511.2 M97.0 504.3L445.9 448.7 M97.0 504.3L240.0 470.0 M97.0 504.3L290.0 470.0 M97.0 504.3L110.0 420.0 M105.9 548.4L344.3 581.0 M105.9 548.4L346.2 694.0 M105.9 548.4L396.0 554.2 M105.9 548.4L401.8 511.2 M105.9 548.4L422.9 511.2 M105.9 548.4L445.9 448.7 M105.9 548.4L300.0 520.0 M72.9 570.2L344.3 581.0 M72.9 570.2L372.3 653.8 M72.9 570.2L445.9 448.7 M72.9 570.2L255.0 420.0 M72.9 570.2L290.0 470.0 M72.9 570.2L215.0 520.0 M72.9 570.2L300.0 520.0 M72.9 570.2L110.0 420.0 M174.5 577.1L344.3 581.0 M174.5 577.1L346.2 694.0 M174.5 577.1L396.0 554.2 M174.5 577.1L422.9 511.2 M174.5 577.1L445.9 448.7 M174.5 577.1L240.0 470.0 M174.5 577.1L202.4 329.7 M148.8 649.2L432.5 579.1 M88.3 665.3L389.1 485.2 M164.1 690.2L290.0 470.0 M164.1 690.2L215.0 520.0 M164.1 690.2L120.0 380.0 M344.3 581.0L396.0 554.2 M344.3 581.0L401.8 511.2 M344.3 581.0L255.0 420.0 M344.3 581.0L215.0 520.0 M344.3 581.0L300.0 520.0 M344.3 581.0L120.0 380.0 M346.2 694.0L389.1 485.2 M412.1 669.9L290.0 470.0 M412.1 669.9L300.0 520.0 M432.5 579.1L458.5 521.6 M432.5 579.1L389.1 485.2 M432.5 579.1L215.0 520.0 M396.0 554.2L401.8 511.2 M396.0 554.2L240.0 470.0 M396.0 554.2L215.0 520.0 M396.0 554.2L202.4 329.7 M396.0 554.2L120.0 380.0 M458.5 521.6L401.8 511.2 M458.5 521.6L422.9 511.2 M458.5 521.6L389.1 485.2 M458.5 521.6L255.0 420.0 M458.5 521.6L240.0 470.0 M458.5 521.6L202.4 329.7 M401.8 511.2L389.1 485.2 M401.8 511.2L255.0 420.0 M401.8 511.2L300.0 520.0 M401.8 511.2L202.4 329.7 M422.9 511.2L389.1 485.2 M422.9 511.2L255.0 420.0 M422.9 511.2L290.0 470.0 M422.9 511.2L300.0 520.0 M422.9 511.2L202.4 329.7 M422.9 511.2L120.0 380.0 M389.1 485.2L255.0 420.0 M389.1 485.2L240.0 470.0 M389.1 485.2L290.0 470.0 M389.1 485.2L215.0 520.0 M445.9 448.7L255.0 420.0 M445.9 448.7L290.0 470.0 M255.0 420.0L290.0 470.0 M255.0 420.0L215.0 520.0 M255.0 420.0L300.0 520.0 M240.0 470.0L290.0 470.0 M240.0 470.0L300.0 520.0 M240.0 470.0L202.4 329.7 M240.0 470.0L110.0 420.0 M290.0 470.0L202.4 329.7 M290.0 470.0L110.0 420.0 M290.0 470.0L120.0 380.0 M215.0 520.0L300.0 520.0 M215.0 520.0L202.4 329.7 M215.0 520.0L120.0 380.0" fill="none" stroke="#e24040" stroke-width="1.0"/>
<line x1="141.20" y1="598.20" x2="148.80" y2="649.20" stroke="#f09a30" stroke-width="3.2" stroke-linecap="butt"/>
<line x1="372.30" y1="609.70" x2="372.30" y2="653.80" stroke="#f2c22a" stroke-width="3.2" stroke-linecap="butt"/>
<circle cx="105.9" cy="548.4" r="17" fill="url(#g3)"/>
<circle cx="152.6" cy="316.6" r="16" fill="url(#g3)"/>
<circle cx="384" cy="322" r="16" fill="url(#g3)"/>
<circle cx="396" cy="554.2" r="14" fill="url(#g3)"/>
<circle cx="143" cy="289.7" r="13" fill="url(#g1)"/>
<circle cx="71.4" cy="471.7" r="13" fill="url(#g1)"/>
<circle cx="445.9" cy="410.5" r="13" fill="url(#g1)"/>
<circle cx="58.7" cy="437.3" r="12" fill="url(#g0)"/>
<circle cx="175.6" cy="429.6" r="12" fill="url(#g1)"/>
<circle cx="453.5" cy="481.4" r="12" fill="url(#g1)"/>
<circle cx="401.8" cy="511.2" r="12" fill="url(#g1)"/>
<circle cx="422.9" cy="511.2" r="12" fill="url(#g1)"/>
<circle cx="192.9" cy="280.1" r="11" fill="url(#g0)"/>
<circle cx="341.2" cy="284" r="11" fill="url(#g0)"/>
<circle cx="72.9" cy="570.2" r="11" fill="url(#g0)"/>
<circle cx="432.5" cy="579.1" r="11" fill="url(#g2)"/>
<circle cx="223.6" cy="256.4" r="10" fill="url(#g0)"/>
<circle cx="380" cy="318" r="10" fill="url(#g2)"/>
<circle cx="171.8" cy="377.9" r="10" fill="url(#g1)"/>
<circle cx="70.2" cy="402.8" r="10" fill="url(#g0)"/>
<circle cx="370.4" cy="425.8" r="10" fill="url(#g0)"/>
<circle cx="375" cy="383.6" r="10" fill="url(#g1)"/>
<circle cx="141.2" cy="479.5" r="10" fill="url(#g2)"/>
<circle cx="56" cy="512.8" r="10" fill="url(#g0)"/>
<circle cx="372.3" cy="609.7" r="10" fill="url(#g0)"/>
<circle cx="458.5" cy="521.6" r="10" fill="url(#g2)"/>
<circle cx="129.7" cy="489" r="9" fill="url(#g0)"/>
<circle cx="375" cy="489" r="9" fill="url(#g0)"/>
<circle cx="159.2" cy="280.1" r="8" fill="url(#g2)"/>
<circle cx="366.5" cy="285.9" r="8" fill="url(#g2)"/>
<circle cx="166" cy="349" r="8" fill="url(#g0)"/>
<circle cx="128.9" cy="368.3" r="8" fill="url(#g0)"/>
<circle cx="329" cy="376" r="8" fill="url(#g1)"/>
<circle cx="327" cy="439" r="8" fill="url(#g0)"/>
<circle cx="106.7" cy="465.2" r="8" fill="url(#g0)"/>
<circle cx="97" cy="504.3" r="8" fill="url(#g1)"/>
<circle cx="141.2" cy="598.2" r="8" fill="url(#g2)"/>
<circle cx="372.3" cy="653.8" r="8" fill="url(#g2)"/>
<circle cx="302.9" cy="258.3" r="7" fill="url(#g4)"/>
<circle cx="342.4" cy="408.5" r="7" fill="url(#g2)"/>
<circle cx="388.4" cy="483.3" r="7" fill="url(#g4)"/>
<circle cx="389.1" cy="485.2" r="7" fill="url(#g2)"/>
<circle cx="204.4" cy="374" r="6" fill="url(#g2)"/>
<circle cx="296.4" cy="406.6" r="6" fill="url(#g2)"/>
<circle cx="317.5" cy="331.9" r="6" fill="url(#g0)"/>
<circle cx="401.8" cy="469.9" r="6" fill="url(#g2)"/>
<circle cx="148.8" cy="649.2" r="6" fill="url(#g4)"/>
<circle cx="174.5" cy="577.1" r="5" fill="url(#g4)"/>
<circle cx="344.3" cy="581" r="5" fill="url(#g4)"/>
<circle cx="445.9" cy="448.7" r="5" fill="url(#g4)"/>
<circle cx="202.4" cy="329.7" r="4" fill="url(#g4)"/>
<circle cx="88.3" cy="665.3" r="2" fill="url(#g5)"/>
<circle cx="164.1" cy="690.2" r="2" fill="url(#g5)"/>
<circle cx="346.2" cy="694" r="2" fill="url(#g5)"/>
<circle cx="412.1" cy="669.9" r="2" fill="url(#g5)"/>
<g transform="translate(621,0)">
<path d="M 169,140 C 169,124 176,117 190,116 L 243,115 C 250,115 253,119 256,120 C 259,119 262,116 270,116 L 330,118 C 340,119 345,126 345,138 L 344,182 C 343,192 340,202 334.3,210.2 C 336.5,211.4 342.7,214.4 347.3,217.5 C 351.9,220.6 357.4,224.4 362.0,229.0 C 366.6,233.6 370.6,239.9 375.0,245.3 C 379.4,250.7 383.8,256.2 388.1,261.6 C 392.5,267.0 396.8,272.5 401.1,277.9 C 405.5,283.3 410.1,288.8 414.2,294.2 C 418.3,299.6 421.8,304.5 425.6,310.5 C 429.4,316.5 433.5,323.2 437.0,330.0 C 440.5,336.8 443.8,343.7 446.8,351.3 C 449.8,358.9 452.1,367.7 455.0,375.8 C 457.9,383.9 461.5,392.3 464.0,400.0 C 466.5,407.7 468.1,413.9 470.0,422.0 C 471.9,430.1 474.3,440.3 475.5,448.9 C 476.7,457.5 476.9,465.2 477.0,473.4 C 477.1,481.6 476.9,489.8 476.2,497.9 C 475.5,506.0 474.3,514.7 472.9,522.3 C 471.5,529.9 469.9,537.1 468.0,543.6 C 466.1,550.1 463.9,556.1 461.5,561.5 C 459.1,566.9 456.3,571.6 453.3,576.2 C 450.3,580.8 447.4,585.7 443.6,589.2 C 439.8,592.7 434.1,595.5 430.5,597.4 C 426.9,599.3 423.7,600.2 422.3,600.7 C 421.6,604.2 420.1,613.5 418.0,622.0 C 415.9,630.5 413.0,642.7 410.0,652.0 C 407.0,661.3 404.3,670.0 400.0,678.0 C 395.7,686.0 389.0,693.7 384.0,700.0 C 379.0,706.3 374.7,710.0 370.0,716.0 C 365.3,722.0 360.3,729.0 356.0,736.0 C 351.7,743.0 348.3,751.8 344.0,758.0 C 339.7,764.2 336.5,769.5 330.0,773.0 C 323.5,776.5 320.0,777.7 305.0,779.0 C 290.0,780.3 261.2,781.2 240.0,781.0 C 218.8,780.8 191.0,780.5 178.0,778.0 C 165.0,775.5 166.7,771.3 162.0,766.0 C 157.3,760.7 154.3,754.2 150.0,746.0 C 145.7,737.8 142.0,727.0 136.0,717.0 C 130.0,707.0 120.7,694.8 114.0,686.0 C 107.3,677.2 101.0,672.3 96.0,664.0 C 91.0,655.7 86.8,644.7 84.0,636.0 C 81.2,627.3 80.0,618.7 79.0,612.0 C 78.0,605.3 78.4,598.7 78.3,596.0 C 76.7,594.3 72.0,589.3 68.5,586.0 C 65.0,582.7 60.6,580.0 57.1,576.2 C 53.6,572.4 50.3,568.0 47.3,563.1 C 44.3,558.2 41.4,552.2 39.2,546.8 C 37.0,541.4 36.1,535.9 34.3,530.5 C 32.5,525.1 30.1,519.6 28.5,514.2 C 26.9,508.8 25.4,504.7 24.5,497.9 C 23.6,491.1 22.8,481.6 22.8,473.4 C 22.8,465.2 23.6,456.8 24.5,448.9 C 25.4,441.0 26.9,433.3 28.5,426.0 C 30.1,418.7 31.7,412.0 34.0,405.0 C 36.3,398.0 39.1,392.8 42.4,383.9 C 45.7,374.9 50.0,360.8 53.8,351.3 C 57.6,341.8 61.5,334.2 65.3,326.8 C 69.1,319.4 72.3,314.0 76.7,307.2 C 81.1,300.4 86.2,292.5 91.4,286.0 C 96.6,279.5 102.3,273.8 107.7,268.1 C 113.1,262.4 119.4,256.7 124.0,251.8 C 128.6,246.9 131.6,242.8 135.4,238.7 C 139.2,234.6 142.2,231.1 146.8,227.3 C 151.4,223.5 157.9,219.0 163.1,215.9 C 168.3,212.8 175.4,209.7 177.8,208.5 C 174,202 170,192 169,182 Z" fill="url(#brainfill)"/>
<path d="M 169,140 C 169,124 176,117 190,116 L 243,115 C 250,115 253,119 256,120 C 259,119 262,116 270,116 L 330,118 C 340,119 345,126 345,138 L 344,182 C 343,192 340,202 334.3,210.2 C 336.5,211.4 342.7,214.4 347.3,217.5 C 351.9,220.6 357.4,224.4 362.0,229.0 C 366.6,233.6 370.6,239.9 375.0,245.3 C 379.4,250.7 383.8,256.2 388.1,261.6 C 392.5,267.0 396.8,272.5 401.1,277.9 C 405.5,283.3 410.1,288.8 414.2,294.2 C 418.3,299.6 421.8,304.5 425.6,310.5 C 429.4,316.5 433.5,323.2 437.0,330.0 C 440.5,336.8 443.8,343.7 446.8,351.3 C 449.8,358.9 452.1,367.7 455.0,375.8 C 457.9,383.9 461.5,392.3 464.0,400.0 C 466.5,407.7 468.1,413.9 470.0,422.0 C 471.9,430.1 474.3,440.3 475.5,448.9 C 476.7,457.5 476.9,465.2 477.0,473.4 C 477.1,481.6 476.9,489.8 476.2,497.9 C 475.5,506.0 474.3,514.7 472.9,522.3 C 471.5,529.9 469.9,537.1 468.0,543.6 C 466.1,550.1 463.9,556.1 461.5,561.5 C 459.1,566.9 456.3,571.6 453.3,576.2 C 450.3,580.8 447.4,585.7 443.6,589.2 C 439.8,592.7 434.1,595.5 430.5,597.4 C 426.9,599.3 423.7,600.2 422.3,600.7 C 421.6,604.2 420.1,613.5 418.0,622.0 C 415.9,630.5 413.0,642.7 410.0,652.0 C 407.0,661.3 404.3,670.0 400.0,678.0 C 395.7,686.0 389.0,693.7 384.0,700.0 C 379.0,706.3 374.7,710.0 370.0,716.0 C 365.3,722.0 360.3,729.0 356.0,736.0 C 351.7,743.0 348.3,751.8 344.0,758.0 C 339.7,764.2 336.5,769.5 330.0,773.0 C 323.5,776.5 320.0,777.7 305.0,779.0 C 290.0,780.3 261.2,781.2 240.0,781.0 C 218.8,780.8 191.0,780.5 178.0,778.0 C 165.0,775.5 166.7,771.3 162.0,766.0 C 157.3,760.7 154.3,754.2 150.0,746.0 C 145.7,737.8 142.0,727.0 136.0,717.0 C 130.0,707.0 120.7,694.8 114.0,686.0 C 107.3,677.2 101.0,672.3 96.0,664.0 C 91.0,655.7 86.8,644.7 84.0,636.0 C 81.2,627.3 80.0,618.7 79.0,612.0 C 78.0,605.3 78.4,598.7 78.3,596.0 C 76.7,594.3 72.0,589.3 68.5,586.0 C 65.0,582.7 60.6,580.0 57.1,576.2 C 53.6,572.4 50.3,568.0 47.3,563.1 C 44.3,558.2 41.4,552.2 39.2,546.8 C 37.0,541.4 36.1,535.9 34.3,530.5 C 32.5,525.1 30.1,519.6 28.5,514.2 C 26.9,508.8 25.4,504.7 24.5,497.9 C 23.6,491.1 22.8,481.6 22.8,473.4 C 22.8,465.2 23.6,456.8 24.5,448.9 C 25.4,441.0 26.9,433.3 28.5,426.0 C 30.1,418.7 31.7,412.0 34.0,405.0 C 36.3,398.0 39.1,392.8 42.4,383.9 C 45.7,374.9 50.0,360.8 53.8,351.3 C 57.6,341.8 61.5,334.2 65.3,326.8 C 69.1,319.4 72.3,314.0 76.7,307.2 C 81.1,300.4 86.2,292.5 91.4,286.0 C 96.6,279.5 102.3,273.8 107.7,268.1 C 113.1,262.4 119.4,256.7 124.0,251.8 C 128.6,246.9 131.6,242.8 135.4,238.7 C 139.2,234.6 142.2,231.1 146.8,227.3 C 151.4,223.5 157.9,219.0 163.1,215.9 C 168.3,212.8 175.4,209.7 177.8,208.5 C 174,202 170,192 169,182 Z" fill="none" stroke="#bdbdbd" stroke-width="10" clip-path="url(#bclip)" filter="url(#soft)" opacity="0.75"/>
<path d="M 169,140 C 169,124 176,117 190,116 L 243,115 C 250,115 253,119 256,120 C 259,119 262,116 270,116 L 330,118 C 340,119 345,126 345,138 L 344,182 C 343,192 340,202 334.3,210.2 C 336.5,211.4 342.7,214.4 347.3,217.5 C 351.9,220.6 357.4,224.4 362.0,229.0 C 366.6,233.6 370.6,239.9 375.0,245.3 C 379.4,250.7 383.8,256.2 388.1,261.6 C 392.5,267.0 396.8,272.5 401.1,277.9 C 405.5,283.3 410.1,288.8 414.2,294.2 C 418.3,299.6 421.8,304.5 425.6,310.5 C 429.4,316.5 433.5,323.2 437.0,330.0 C 440.5,336.8 443.8,343.7 446.8,351.3 C 449.8,358.9 452.1,367.7 455.0,375.8 C 457.9,383.9 461.5,392.3 464.0,400.0 C 466.5,407.7 468.1,413.9 470.0,422.0 C 471.9,430.1 474.3,440.3 475.5,448.9 C 476.7,457.5 476.9,465.2 477.0,473.4 C 477.1,481.6 476.9,489.8 476.2,497.9 C 475.5,506.0 474.3,514.7 472.9,522.3 C 471.5,529.9 469.9,537.1 468.0,543.6 C 466.1,550.1 463.9,556.1 461.5,561.5 C 459.1,566.9 456.3,571.6 453.3,576.2 C 450.3,580.8 447.4,585.7 443.6,589.2 C 439.8,592.7 434.1,595.5 430.5,597.4 C 426.9,599.3 423.7,600.2 422.3,600.7 C 421.6,604.2 420.1,613.5 418.0,622.0 C 415.9,630.5 413.0,642.7 410.0,652.0 C 407.0,661.3 404.3,670.0 400.0,678.0 C 395.7,686.0 389.0,693.7 384.0,700.0 C 379.0,706.3 374.7,710.0 370.0,716.0 C 365.3,722.0 360.3,729.0 356.0,736.0 C 351.7,743.0 348.3,751.8 344.0,758.0 C 339.7,764.2 336.5,769.5 330.0,773.0 C 323.5,776.5 320.0,777.7 305.0,779.0 C 290.0,780.3 261.2,781.2 240.0,781.0 C 218.8,780.8 191.0,780.5 178.0,778.0 C 165.0,775.5 166.7,771.3 162.0,766.0 C 157.3,760.7 154.3,754.2 150.0,746.0 C 145.7,737.8 142.0,727.0 136.0,717.0 C 130.0,707.0 120.7,694.8 114.0,686.0 C 107.3,677.2 101.0,672.3 96.0,664.0 C 91.0,655.7 86.8,644.7 84.0,636.0 C 81.2,627.3 80.0,618.7 79.0,612.0 C 78.0,605.3 78.4,598.7 78.3,596.0 C 76.7,594.3 72.0,589.3 68.5,586.0 C 65.0,582.7 60.6,580.0 57.1,576.2 C 53.6,572.4 50.3,568.0 47.3,563.1 C 44.3,558.2 41.4,552.2 39.2,546.8 C 37.0,541.4 36.1,535.9 34.3,530.5 C 32.5,525.1 30.1,519.6 28.5,514.2 C 26.9,508.8 25.4,504.7 24.5,497.9 C 23.6,491.1 22.8,481.6 22.8,473.4 C 22.8,465.2 23.6,456.8 24.5,448.9 C 25.4,441.0 26.9,433.3 28.5,426.0 C 30.1,418.7 31.7,412.0 34.0,405.0 C 36.3,398.0 39.1,392.8 42.4,383.9 C 45.7,374.9 50.0,360.8 53.8,351.3 C 57.6,341.8 61.5,334.2 65.3,326.8 C 69.1,319.4 72.3,314.0 76.7,307.2 C 81.1,300.4 86.2,292.5 91.4,286.0 C 96.6,279.5 102.3,273.8 107.7,268.1 C 113.1,262.4 119.4,256.7 124.0,251.8 C 128.6,246.9 131.6,242.8 135.4,238.7 C 139.2,234.6 142.2,231.1 146.8,227.3 C 151.4,223.5 157.9,219.0 163.1,215.9 C 168.3,212.8 175.4,209.7 177.8,208.5 C 174,202 170,192 169,182 Z" fill="none" stroke="#c2c2c2" stroke-width="1.2"/>
<path d="M 82,602 C 60,600 47,622 47,650 C 47,680 62,703 86,705 C 106,706 118,690 119,660 C 119,628 105,604 82,602 Z" fill="url(#lobefill)" fill-opacity="0.9"/>
<path d="M 82,602 C 60,600 47,622 47,650 C 47,680 62,703 86,705 C 106,706 118,690 119,660 C 119,628 105,604 82,602 Z" fill="none" stroke="#bdbdbd" stroke-width="8" clip-path="url(#lclip)" filter="url(#soft)" opacity="0.7"/>
<path d="M 82,602 C 60,600 47,622 47,650 C 47,680 62,703 86,705 C 106,706 118,690 119,660 C 119,628 105,604 82,602 Z" fill="none" stroke="#c4c4c4" stroke-width="1.1"/>
<path d="M 415,617 C 398,617 385,638 384,665 C 383,694 396,715 415,715 C 434,715 445,694 445,666 C 445,638 432,617 415,617 Z" fill="url(#lobefill)" fill-opacity="0.9"/>
<path d="M 415,617 C 398,617 385,638 384,665 C 383,694 396,715 415,715 C 434,715 445,694 445,666 C 445,638 432,617 415,617 Z" fill="none" stroke="#bdbdbd" stroke-width="8" clip-path="url(#rclip)" filter="url(#soft)" opacity="0.7"/>
<path d="M 415,617 C 398,617 385,638 384,665 C 383,694 396,715 415,715 C 434,715 445,694 445,666 C 445,638 432,617 415,617 Z" fill="none" stroke="#c4c4c4" stroke-width="1.1"/>
<path d="M 178,762 C 200,755 300,755 322,760 L 318,774 C 280,779 205,779 182,775 Z" fill="#dadada" opacity="0.8"/>
<path d="M 82,592 C 150,603 330,603 422,600" fill="none" stroke="#c4c4c4" stroke-width="1.4"/>
<path d="M 176,208 C 200,212 215,214 256,214 C 290,214 320,212 339,209" fill="none" stroke="#dadada" stroke-width="1"/>
</g>
<circle cx="743.5" cy="450.4" r="12" fill="url(#g3)"/>
<circle cx="732" cy="404.4" r="11" fill="url(#g3)"/>
<circle cx="995.7" cy="383.3" r="10" fill="url(#g1)"/>
<circle cx="1002.2" cy="542.4" r="10" fill="url(#g1)"/>
<circle cx="925.5" cy="492.6" r="9" fill="url(#g0)"/>
<circle cx="916" cy="406.3" r="8" fill="url(#g0)"/>
<circle cx="1002.2" cy="410.1" r="8" fill="url(#g0)"/>
<circle cx="810.6" cy="435" r="8" fill="url(#g0)"/>
<circle cx="718.6" cy="506" r="8" fill="url(#g0)"/>
<circle cx="939" cy="331.6" r="7" fill="url(#g2)"/>
<path d="M845.1 256.8L814.4 280.6 M845.1 256.8L1003.4 318.9 M845.1 256.8L824.0 330.4 M845.1 256.8L751.2 368.0 M845.1 256.8L825.9 374.9 M845.1 256.8L939.0 331.6 M845.1 256.8L732.0 404.4 M845.1 256.8L743.5 450.4 M845.1 256.8L1024.0 470.3 M845.1 256.8L1009.9 484.9 M845.1 256.8L678.3 512.9 M845.1 256.8L718.6 506.0 M845.1 256.8L728.2 548.2 M845.1 256.8L695.6 571.2 M845.1 256.8L1017.5 555.0 M845.1 256.8L1002.2 542.4 M923.6 258.7L774.9 316.2 M923.6 258.7L988.0 286.3 M923.6 258.7L824.0 330.4 M923.6 258.7L795.2 407.0 M923.6 258.7L842.0 404.4 M923.6 258.7L962.7 408.2 M923.6 258.7L990.7 423.6 M923.6 258.7L682.2 438.9 M923.6 258.7L810.6 435.0 M923.6 258.7L1066.2 449.2 M923.6 258.7L795.2 576.9 M923.6 258.7L994.5 610.6 M923.6 258.7L1078.9 522.1 M923.6 258.7L1002.2 542.4 M764.6 289.4L814.4 280.6 M764.6 289.4L824.0 330.4 M764.6 289.4L751.2 381.4 M764.6 289.4L939.0 331.6 M764.6 289.4L939.0 376.4 M764.6 289.4L691.7 402.5 M764.6 289.4L1067.4 410.1 M764.6 289.4L682.2 438.9 M764.6 289.4L728.2 463.8 M764.6 289.4L769.6 649.0 M764.6 289.4L994.5 610.6 M764.6 289.4L966.6 581.9 M764.6 289.4L1023.3 511.7 M764.6 289.4L925.5 492.6 M779.9 279.8L962.0 284.4 M779.9 279.8L787.6 348.8 M779.9 279.8L751.2 381.4 M779.9 279.8L992.6 371.8 M779.9 279.8L732.0 404.4 M779.9 279.8L916.0 406.3 M779.9 279.8L962.7 408.2 M779.9 279.8L1067.4 410.1 M779.9 279.8L764.6 479.1 M779.9 279.8L755.0 490.6 M779.9 279.8L1009.9 484.9 M779.9 279.8L994.5 654.7 M779.9 279.8L1078.9 522.1 M814.4 280.6L962.0 284.4 M814.4 280.6L1003.4 318.9 M814.4 280.6L939.0 331.6 M814.4 280.6L995.7 383.3 M814.4 280.6L810.6 435.0 M814.4 280.6L693.7 471.5 M814.4 280.6L728.2 463.8 M814.4 280.6L927.5 490.6 M814.4 280.6L678.3 512.9 M814.4 280.6L728.2 548.2 M814.4 280.6L769.6 649.0 M814.4 280.6L710.1 665.8 M814.4 280.6L966.6 693.0 M814.4 280.6L1078.9 522.1 M814.4 280.6L925.5 492.6 M774.9 316.2L751.2 381.4 M774.9 316.2L939.0 376.4 M774.9 316.2L732.0 404.4 M774.9 316.2L916.0 406.3 M774.9 316.2L1002.2 410.1 M774.9 316.2L1067.4 410.1 M774.9 316.2L743.5 450.4 M774.9 316.2L755.0 490.6 M774.9 316.2L1075.0 481.0 M774.9 316.2L678.3 512.9 M774.9 316.2L718.6 506.0 M774.9 316.2L728.2 548.2 M774.9 316.2L795.2 576.9 M774.9 316.2L769.6 649.0 M774.9 316.2L966.6 581.9 M962.0 284.4L1003.4 318.9 M962.0 284.4L825.9 374.9 M962.0 284.4L939.0 376.4 M962.0 284.4L992.6 371.8 M962.0 284.4L810.6 435.0 M962.0 284.4L764.6 479.1 M962.0 284.4L1009.9 484.9 M962.0 284.4L718.6 506.0 M962.0 284.4L728.2 548.2 M962.0 284.4L769.6 649.0 M962.0 284.4L966.6 693.0 M962.0 284.4L1017.5 555.0 M962.0 284.4L925.5 492.6 M988.0 286.3L939.0 331.6 M988.0 286.3L842.0 404.4 M988.0 286.3L1002.2 410.1 M988.0 286.3L799.0 431.2 M988.0 286.3L755.0 490.6 M988.0 286.3L1024.0 470.3 M988.0 286.3L966.6 693.0 M988.0 286.3L1034.0 670.0 M988.0 286.3L966.6 581.9 M1003.4 318.9L787.6 348.8 M1003.4 318.9L751.2 381.4 M1003.4 318.9L939.0 376.4 M1003.4 318.9L992.6 371.8 M1003.4 318.9L732.0 404.4 M1003.4 318.9L1067.4 410.1 M1003.4 318.9L693.7 471.5 M1003.4 318.9L1024.0 470.3 M1003.4 318.9L1009.9 484.9 M1003.4 318.9L1075.0 481.0 M1003.4 318.9L927.5 490.6 M1003.4 318.9L695.6 571.2 M824.0 330.4L939.0 331.6 M824.0 330.4L732.0 404.4 M824.0 330.4L916.0 406.3 M824.0 330.4L962.7 408.2 M824.0 330.4L990.7 423.6 M824.0 330.4L743.5 450.4 M824.0 330.4L693.7 471.5 M824.0 330.4L1024.0 470.3 M824.0 330.4L1009.9 484.9 M824.0 330.4L927.5 490.6 M824.0 330.4L695.6 571.2 M824.0 330.4L1034.0 670.0 M824.0 330.4L1017.5 555.0 M824.0 330.4L1078.9 522.1 M824.0 330.4L1002.2 542.4 M787.6 348.8L751.2 381.4 M787.6 348.8L992.6 371.8 M787.6 348.8L691.7 402.5 M787.6 348.8L795.2 407.0 M787.6 348.8L842.0 404.4 M787.6 348.8L916.0 406.3 M787.6 348.8L962.7 408.2 M787.6 348.8L1002.2 410.1 M787.6 348.8L1067.4 410.1 M787.6 348.8L990.7 423.6 M787.6 348.8L1066.2 449.2 M787.6 348.8L693.7 471.5 M787.6 348.8L764.6 479.1 M787.6 348.8L1075.0 481.0 M787.6 348.8L728.2 548.2 M787.6 348.8L994.5 610.6 M751.2 368.0L751.2 381.4 M751.2 368.0L825.9 374.9 M751.2 368.0L963.1 351.9 M751.2 368.0L795.2 407.0 M751.2 368.0L842.0 404.4 M751.2 368.0L962.7 408.2 M751.2 368.0L1067.4 410.1 M751.2 368.0L990.7 423.6 M751.2 368.0L799.0 431.2 M751.2 368.0L810.6 435.0 M751.2 368.0L743.5 450.4 M751.2 368.0L728.2 463.8 M751.2 368.0L755.0 490.6 M751.2 368.0L1009.9 484.9 M751.2 368.0L678.3 512.9 M751.2 368.0L718.6 506.0 M751.2 368.0L761.9 598.0 M751.2 368.0L1034.0 670.0 M751.2 368.0L994.5 654.7 M751.2 368.0L966.6 581.9 M751.2 368.0L1054.0 580.7 M751.2 368.0L1078.9 522.1 M751.2 381.4L939.0 376.4 M751.2 381.4L842.0 404.4 M751.2 381.4L990.7 423.6 M751.2 381.4L743.5 450.4 M751.2 381.4L693.7 471.5 M751.2 381.4L1009.9 484.9 M751.2 381.4L1075.0 481.0 M751.2 381.4L927.5 490.6 M751.2 381.4L695.6 571.2 M751.2 381.4L761.9 598.0 M751.2 381.4L1017.5 555.0 M751.2 381.4L1078.9 522.1 M751.2 381.4L1023.3 511.7 M825.9 374.9L939.0 331.6 M825.9 374.9L732.0 404.4 M825.9 374.9L990.7 423.6 M825.9 374.9L682.2 438.9 M825.9 374.9L799.0 431.2 M825.9 374.9L946.6 438.9 M825.9 374.9L1066.2 449.2 M825.9 374.9L693.7 471.5 M825.9 374.9L764.6 479.1 M825.9 374.9L710.1 665.8 M825.9 374.9L994.5 610.6 M825.9 374.9L966.6 581.9 M825.9 374.9L1054.0 580.7 M825.9 374.9L1002.2 542.4 M939.0 331.6L691.7 402.5 M939.0 331.6L732.0 404.4 M939.0 331.6L795.2 407.0 M939.0 331.6L842.0 404.4 M939.0 331.6L990.7 423.6 M939.0 331.6L682.2 438.9 M939.0 331.6L799.0 431.2 M939.0 331.6L810.6 435.0 M939.0 331.6L1024.0 470.3 M939.0 331.6L966.6 581.9 M963.1 351.9L995.7 383.3 M963.1 351.9L916.0 406.3 M963.1 351.9L764.6 479.1 M963.1 351.9L755.0 490.6 M963.1 351.9L1024.0 470.3 M963.1 351.9L1009.9 484.9 M963.1 351.9L718.6 506.0 M963.1 351.9L728.2 548.2 M963.1 351.9L784.9 689.2 M963.1 351.9L966.6 693.0 M963.1 351.9L1002.2 542.4 M963.1 351.9L925.5 492.6 M939.0 376.4L732.0 404.4 M939.0 376.4L990.7 423.6 M939.0 376.4L799.0 431.2 M939.0 376.4L810.6 435.0 M939.0 376.4L946.6 438.9 M939.0 376.4L743.5 450.4 M939.0 376.4L1066.2 449.2 M939.0 376.4L693.7 471.5 M939.0 376.4L755.0 490.6 M939.0 376.4L1009.9 484.9 M939.0 376.4L1075.0 481.0 M939.0 376.4L718.6 506.0 M939.0 376.4L795.2 576.9 M939.0 376.4L994.5 654.7 M939.0 376.4L966.6 581.9 M992.6 371.8L842.0 404.4 M992.6 371.8L990.7 423.6 M992.6 371.8L799.0 431.2 M992.6 371.8L810.6 435.0 M992.6 371.8L946.6 438.9 M992.6 371.8L743.5 450.4 M992.6 371.8L927.5 490.6 M992.6 371.8L678.3 512.9 M992.6 371.8L718.6 506.0 M992.6 371.8L695.6 571.2 M992.6 371.8L710.1 665.8 M992.6 371.8L994.5 610.6 M992.6 371.8L966.6 581.9 M995.7 383.3L916.0 406.3 M995.7 383.3L1002.2 410.1 M995.7 383.3L1067.4 410.1 M995.7 383.3L682.2 438.9 M995.7 383.3L743.5 450.4 M995.7 383.3L764.6 479.1 M995.7 383.3L755.0 490.6 M995.7 383.3L718.6 506.0 M995.7 383.3L795.2 576.9 M995.7 383.3L1017.5 555.0 M995.7 383.3L1023.3 511.7 M995.7 383.3L925.5 492.6 M691.7 402.5L732.0 404.4 M691.7 402.5L842.0 404.4 M691.7 402.5L682.2 438.9 M691.7 402.5L799.0 431.2 M691.7 402.5L810.6 435.0 M691.7 402.5L946.6 438.9 M691.7 402.5L693.7 471.5 M691.7 402.5L764.6 479.1 M691.7 402.5L927.5 490.6 M691.7 402.5L678.3 512.9 M691.7 402.5L761.9 598.0 M691.7 402.5L769.6 649.0 M691.7 402.5L1017.5 555.0 M691.7 402.5L1078.9 522.1 M691.7 402.5L1023.3 511.7 M691.7 402.5L1002.2 542.4 M732.0 404.4L795.2 407.0 M732.0 404.4L842.0 404.4 M732.0 404.4L1002.2 410.1 M732.0 404.4L946.6 438.9 M732.0 404.4L743.5 450.4 M732.0 404.4L1066.2 449.2 M732.0 404.4L693.7 471.5 M732.0 404.4L755.0 490.6 M732.0 404.4L1024.0 470.3 M732.0 404.4L1009.9 484.9 M732.0 404.4L1075.0 481.0 M732.0 404.4L927.5 490.6 M732.0 404.4L761.9 598.0 M732.0 404.4L784.9 689.2 M732.0 404.4L994.5 654.7 M732.0 404.4L1023.3 511.7 M795.2 407.0L842.0 404.4 M795.2 407.0L916.0 406.3 M795.2 407.0L682.2 438.9 M795.2 407.0L810.6 435.0 M795.2 407.0L728.2 463.8 M795.2 407.0L764.6 479.1 M795.2 407.0L1009.9 484.9 M795.2 407.0L1075.0 481.0 M795.2 407.0L678.3 512.9 M795.2 407.0L728.2 548.2 M795.2 407.0L1017.5 555.0 M795.2 407.0L1078.9 522.1 M795.2 407.0L1023.3 511.7 M842.0 404.4L962.7 408.2 M842.0 404.4L1067.4 410.1 M842.0 404.4L990.7 423.6 M842.0 404.4L810.6 435.0 M842.0 404.4L946.6 438.9 M842.0 404.4L743.5 450.4 M842.0 404.4L693.7 471.5 M842.0 404.4L764.6 479.1 M842.0 404.4L927.5 490.6 M842.0 404.4L710.1 665.8 M842.0 404.4L784.9 689.2 M842.0 404.4L966.6 581.9 M916.0 406.3L1067.4 410.1 M916.0 406.3L799.0 431.2 M916.0 406.3L810.6 435.0 M916.0 406.3L743.5 450.4 M916.0 406.3L1066.2 449.2 M916.0 406.3L1075.0 481.0 M916.0 406.3L927.5 490.6 M916.0 406.3L728.2 548.2 M916.0 406.3L695.6 571.2 M916.0 406.3L761.9 598.0 M916.0 406.3L966.6 581.9 M916.0 406.3L1017.5 555.0 M916.0 406.3L925.5 492.6 M962.7 408.2L1002.2 410.1 M962.7 408.2L1067.4 410.1 M962.7 408.2L799.0 431.2 M962.7 408.2L1066.2 449.2 M962.7 408.2L728.2 463.8 M962.7 408.2L755.0 490.6 M962.7 408.2L1009.9 484.9 M962.7 408.2L1075.0 481.0 M962.7 408.2L718.6 506.0 M962.7 408.2L966.6 581.9 M962.7 408.2L1017.5 555.0 M962.7 408.2L925.5 492.6 M1002.2 410.1L682.2 438.9 M1002.2 410.1L799.0 431.2 M1002.2 410.1L810.6 435.0 M1002.2 410.1L946.6 438.9 M1002.2 410.1L743.5 450.4 M1002.2 410.1L678.3 512.9 M1002.2 410.1L718.6 506.0 M1002.2 410.1L728.2 548.2 M1002.2 410.1L761.9 598.0 M1067.4 410.1L946.6 438.9 M1067.4 410.1L728.2 463.8 M1067.4 410.1L764.6 479.1 M1067.4 410.1L755.0 490.6 M1067.4 410.1L1024.0 470.3 M1067.4 410.1L1009.9 484.9 M1067.4 410.1L710.1 665.8 M1067.4 410.1L784.9 689.2 M1067.4 410.1L1002.2 542.4 M990.7 423.6L682.2 438.9 M990.7 423.6L1024.0 470.3 M990.7 423.6L927.5 490.6 M990.7 423.6L718.6 506.0 M990.7 423.6L695.6 571.2 M990.7 423.6L795.2 576.9 M990.7 423.6L1054.0 580.7 M682.2 438.9L946.6 438.9 M682.2 438.9L743.5 450.4 M682.2 438.9L764.6 479.1 M682.2 438.9L1024.0 470.3 M682.2 438.9L1075.0 481.0 M682.2 438.9L927.5 490.6 M682.2 438.9L718.6 506.0 M682.2 438.9L994.5 654.7 M682.2 438.9L966.6 581.9 M682.2 438.9L1054.0 580.7 M682.2 438.9L1023.3 511.7 M682.2 438.9L925.5 492.6 M799.0 431.2L946.6 438.9 M799.0 431.2L1066.2 449.2 M799.0 431.2L693.7 471.5 M799.0 431.2L728.2 463.8 M799.0 431.2L927.5 490.6 M799.0 431.2L718.6 506.0 M799.0 431.2L728.2 548.2 M799.0 431.2L795.2 576.9 M799.0 431.2L784.9 689.2 M799.0 431.2L966.6 581.9 M799.0 431.2L1017.5 555.0 M799.0 431.2L1054.0 580.7 M799.0 431.2L1023.3 511.7 M810.6 435.0L743.5 450.4 M810.6 435.0L693.7 471.5 M810.6 435.0L764.6 479.1 M810.6 435.0L1075.0 481.0 M810.6 435.0L927.5 490.6 M810.6 435.0L678.3 512.9 M810.6 435.0L795.2 576.9 M810.6 435.0L761.9 598.0 M810.6 435.0L710.1 665.8 M810.6 435.0L966.6 693.0 M810.6 435.0L925.5 492.6 M946.6 438.9L743.5 450.4 M946.6 438.9L1024.0 470.3 M946.6 438.9L1009.9 484.9 M946.6 438.9L1075.0 481.0 M946.6 438.9L966.6 581.9 M946.6 438.9L1078.9 522.1 M946.6 438.9L925.5 492.6 M743.5 450.4L693.7 471.5 M743.5 450.4L764.6 479.1 M743.5 450.4L1024.0 470.3 M743.5 450.4L1075.0 481.0 M743.5 450.4L728.2 548.2 M743.5 450.4L769.6 649.0 M743.5 450.4L784.9 689.2 M743.5 450.4L966.6 581.9 M743.5 450.4L1017.5 555.0 M743.5 450.4L1054.0 580.7 M743.5 450.4L1023.3 511.7 M743.5 450.4L1002.2 542.4 M1066.2 449.2L728.2 463.8 M1066.2 449.2L1024.0 470.3 M1066.2 449.2L1009.9 484.9 M1066.2 449.2L927.5 490.6 M1066.2 449.2L695.6 571.2 M1066.2 449.2L710.1 665.8 M1066.2 449.2L966.6 693.0 M1066.2 449.2L994.5 610.6 M1066.2 449.2L994.5 654.7 M1066.2 449.2L1017.5 555.0 M1066.2 449.2L1002.2 542.4 M693.7 471.5L764.6 479.1 M693.7 471.5L755.0 490.6 M693.7 471.5L1024.0 470.3 M693.7 471.5L718.6 506.0 M693.7 471.5L710.1 665.8 M693.7 471.5L1034.0 670.0 M693.7 471.5L1054.0 580.7 M693.7 471.5L1023.3 511.7 M728.2 463.8L1024.0 470.3 M728.2 463.8L1009.9 484.9 M728.2 463.8L678.3 512.9 M728.2 463.8L695.6 571.2 M728.2 463.8L994.5 610.6 M728.2 463.8L1017.5 555.0 M728.2 463.8L1054.0 580.7 M728.2 463.8L1002.2 542.4 M764.6 479.1L1024.0 470.3 M764.6 479.1L728.2 548.2 M764.6 479.1L695.6 571.2 M764.6 479.1L761.9 598.0 M764.6 479.1L966.6 581.9 M764.6 479.1L1017.5 555.0 M764.6 479.1L1054.0 580.7 M755.0 490.6L1075.0 481.0 M755.0 490.6L678.3 512.9 M755.0 490.6L761.9 598.0 M755.0 490.6L966.6 693.0 M755.0 490.6L994.5 610.6 M755.0 490.6L1078.9 522.1 M755.0 490.6L1023.3 511.7 M755.0 490.6L1002.2 542.4 M1024.0 470.3L1009.9 484.9 M1024.0 470.3L1075.0 481.0 M1024.0 470.3L678.3 512.9 M1024.0 470.3L1023.3 511.7 M1009.9 484.9L927.5 490.6 M1009.9 484.9L718.6 506.0 M1009.9 484.9L728.2 548.2 M1009.9 484.9L795.2 576.9 M1009.9 484.9L966.6 693.0 M1009.9 484.9L1017.5 555.0 M1009.9 484.9L1023.3 511.7 M1075.0 481.0L927.5 490.6 M1075.0 481.0L718.6 506.0 M1075.0 481.0L710.1 665.8 M1075.0 481.0L966.6 693.0 M1075.0 481.0L994.5 654.7 M1075.0 481.0L1078.9 522.1 M1075.0 481.0L1002.2 542.4 M927.5 490.6L728.2 548.2 M927.5 490.6L695.6 571.2 M927.5 490.6L795.2 576.9 M927.5 490.6L1017.5 555.0 M927.5 490.6L1054.0 580.7 M678.3 512.9L728.2 548.2 M678.3 512.9L1017.5 555.0 M678.3 512.9L1054.0 580.7 M678.3 512.9L1078.9 522.1 M678.3 512.9L925.5 492.6 M718.6 506.0L1017.5 555.0 M718.6 506.0L1023.3 511.7 M718.6 506.0L1002.2 542.4 M728.2 548.2L761.9 598.0 M728.2 548.2L710.1 665.8 M728.2 548.2L966.6 693.0 M728.2 548.2L1078.9 522.1 M728.2 548.2L1002.2 542.4 M695.6 571.2L761.9 598.0 M695.6 571.2L784.9 689.2 M695.6 571.2L994.5 610.6 M695.6 571.2L994.5 654.7 M695.6 571.2L1017.5 555.0 M695.6 571.2L925.5 492.6 M795.2 576.9L994.5 610.6 M795.2 576.9L1023.3 511.7 M761.9 598.0L1017.5 555.0 M769.6 649.0L1023.3 511.7 M710.1 665.8L784.9 689.2 M710.1 665.8L994.5 610.6 M710.1 665.8L1054.0 580.7 M784.9 689.2L994.5 610.6 M784.9 689.2L994.5 654.7 M966.6 693.0L1078.9 522.1 M966.6 693.0L1002.2 542.4 M1034.0 670.0L1023.3 511.7 M1034.0 670.0L925.5 492.6 M994.5 610.6L925.5 492.6 M994.5 654.7L1078.9 522.1 M994.5 654.7L1002.2 542.4 M966.6 581.9L1017.5 555.0 M966.6 581.9L925.5 492.6 M1017.5 555.0L1023.3 511.7 M1017.5 555.0L925.5 492.6 M1078.9 522.1L1002.2 542.4 M1078.9 522.1L925.5 492.6 M1023.3 511.7L1002.2 542.4 M1002.2 542.4L925.5 492.6" fill="none" stroke="#e24040" stroke-width="1.0"/>
<line x1="761.90" y1="598.00" x2="769.60" y2="649.00" stroke="#f09a30" stroke-width="3.2" stroke-linecap="butt"/>
<line x1="994.50" y1="610.60" x2="994.50" y2="654.70" stroke="#f2c22a" stroke-width="3.2" stroke-linecap="butt"/>
<circle cx="764.6" cy="289.4" r="13" fill="url(#g3)"/>
<circle cx="1024" cy="470.3" r="13" fill="url(#g1)"/>
<circle cx="1023.3" cy="511.7" r="13" fill="url(#g3)"/>
<circle cx="774.9" cy="316.2" r="12" fill="url(#g1)"/>
<circle cx="962.7" cy="408.2" r="12" fill="url(#g3)"/>
<circle cx="1066.2" cy="449.2" r="11" fill="url(#g1)"/>
<circle cx="678.3" cy="512.9" r="11" fill="url(#g0)"/>
<circle cx="728.2" cy="548.2" r="11" fill="url(#g1)"/>
<circle cx="994.5" cy="610.6" r="11" fill="url(#g1)"/>
<circle cx="825.9" cy="374.9" r="10" fill="url(#g0)"/>
<circle cx="1054" cy="580.7" r="10" fill="url(#g2)"/>
<circle cx="923.6" cy="258.7" r="9" fill="url(#g2)"/>
<circle cx="814.4" cy="280.6" r="9" fill="url(#g0)"/>
<circle cx="1003.4" cy="318.9" r="9" fill="url(#g0)"/>
<circle cx="1075" cy="481" r="9" fill="url(#g2)"/>
<circle cx="1017.5" cy="555" r="9" fill="url(#g2)"/>
<circle cx="1078.9" cy="522.1" r="9" fill="url(#g2)"/>
<circle cx="845.1" cy="256.8" r="8" fill="url(#g2)"/>
<circle cx="962" cy="284.4" r="8" fill="url(#g2)"/>
<circle cx="751.2" cy="368" r="8" fill="url(#g2)"/>
<circle cx="939" cy="376.4" r="8" fill="url(#g2)"/>
<circle cx="691.7" cy="402.5" r="8" fill="url(#g4)"/>
<circle cx="795.2" cy="407" r="8" fill="url(#g2)"/>
<circle cx="842" cy="404.4" r="8" fill="url(#g0)"/>
<circle cx="990.7" cy="423.6" r="8" fill="url(#g0)"/>
<circle cx="693.7" cy="471.5" r="8" fill="url(#g0)"/>
<circle cx="728.2" cy="463.8" r="8" fill="url(#g0)"/>
<circle cx="764.6" cy="479.1" r="8" fill="url(#g2)"/>
<circle cx="755" cy="490.6" r="8" fill="url(#g2)"/>
<circle cx="769.6" cy="649" r="8" fill="url(#g2)"/>
<circle cx="994.5" cy="654.7" r="8" fill="url(#g2)"/>
<circle cx="787.6" cy="348.8" r="7" fill="url(#g2)"/>
<circle cx="751.2" cy="381.4" r="7" fill="url(#g2)"/>
<circle cx="963.1" cy="351.9" r="7" fill="url(#g0)"/>
<circle cx="1067.4" cy="410.1" r="7" fill="url(#g4)"/>
<circle cx="946.6" cy="438.9" r="7" fill="url(#g0)"/>
<circle cx="927.5" cy="490.6" r="7" fill="url(#g0)"/>
<circle cx="761.9" cy="598" r="7" fill="url(#g4)"/>
<circle cx="710.1" cy="665.8" r="7" fill="url(#g4)"/>
<circle cx="966.6" cy="581.9" r="7" fill="url(#g4)"/>
<circle cx="779.9" cy="279.8" r="6" fill="url(#g5)"/>
<circle cx="992.6" cy="371.8" r="6" fill="url(#g2)"/>
<circle cx="682.2" cy="438.9" r="6" fill="url(#g4)"/>
<circle cx="799" cy="431.2" r="6" fill="url(#g4)"/>
<circle cx="1009.9" cy="484.9" r="6" fill="url(#g4)"/>
<circle cx="695.6" cy="571.2" r="6" fill="url(#g5)"/>
<circle cx="795.2" cy="576.9" r="6" fill="url(#g4)"/>
<circle cx="824" cy="330.4" r="5" fill="url(#g4)"/>
<circle cx="966.6" cy="693" r="5" fill="url(#g5)"/>
<circle cx="988" cy="286.3" r="4" fill="url(#g5)"/>
<circle cx="784.9" cy="689.2" r="4" fill="url(#g5)"/>
<circle cx="1034" cy="670" r="4" fill="url(#g5)"/>
<rect x="501.10" y="254.50" width="51.70" height="382.50" fill="url(#cbar)" stroke="#000" stroke-width="2"/>
<rect x="1118.10" y="253.80" width="52.40" height="383.40" fill="url(#cbar)" stroke="#000" stroke-width="2"/>
<text transform="translate(558.20,257.80) rotate(90) scale(0.8119,1)" font-size="50.5" font-weight="normal" fill="#231f20" stroke="#231f20" stroke-width="1.48" stroke-linejoin="round">0.0484</text>
<text transform="translate(558.20,542.04) rotate(90) scale(0.7911,1)" font-size="50.5" font-weight="normal" fill="#231f20" stroke="#231f20" stroke-width="1.52" stroke-linejoin="round">0.982</text>
<text transform="translate(1176.30,259.50) rotate(90) scale(0.8099,1)" font-size="50.5" font-weight="normal" fill="#231f20" stroke="#231f20" stroke-width="1.48" stroke-linejoin="round">0.0433</text>
<text transform="translate(1176.30,540.28) rotate(90) scale(0.8206,1)" font-size="50.5" font-weight="normal" fill="#231f20" stroke="#231f20" stroke-width="1.46" stroke-linejoin="round">0.967</text>
<text transform="translate(38.52,874.40) scale(1.0159,1)" font-size="46" font-weight="bold" fill="#231f20">b)</text>
<text transform="translate(375.39,873.10) scale(0.8192,1)" font-size="51" font-weight="bold" fill="#231f20">Global Network Metrics</text>
<rect x="13.00" y="905.30" width="1198.00" height="5.00" fill="#231f20"/>
<text transform="translate(241.90,1493.90) scale(0.8044,1)" font-size="52" font-weight="bold" fill="#231f20">Regional Participation Coefficients</text>
<circle cx="1007.1" cy="1473.5" r="7.4" fill="#3e5daa"/>
<rect x="999.70" y="1503.80" width="15.40" height="14.60" fill="#e8302a"/>
<text transform="translate(1021.90,1486.10) scale(0.8034,1)" font-size="36.5" font-weight="bold" fill="#231f20">Contralateral</text>
<text transform="translate(1021.13,1522.60) scale(0.8072,1)" font-size="36.5" font-weight="bold" fill="#231f20">Ipsilateral</text>
<rect x="13.00" y="1533.10" width="1199.00" height="5.00" fill="#231f20"/>
<text transform="translate(18.95,1602.50) scale(1.0295,1)" font-size="46" font-weight="bold" fill="#231f20">c)</text>
<text transform="translate(105.71,1612.10) scale(0.9864,1)" font-size="40.5" font-weight="bold" fill="#000">Averaged Hemisphere</text>
<rect x="43.60" y="1623.50" width="535.40" height="2.60" fill="#231f20"/>
<text transform="translate(636.80,1602.50) scale(1.0576,1)" font-size="46" font-weight="bold" fill="#231f20">d)</text>
<text transform="translate(722.62,1611.70) scale(0.9876,1)" font-size="40.5" font-weight="bold" fill="#000">Hippocampus Node 3</text>
<rect x="659.50" y="1622.80" width="536.40" height="2.60" fill="#231f20"/>
<text transform="translate(18.11,2074.50) scale(1.0512,1)" font-size="46" font-weight="bold" fill="#231f20">e)</text>
<text transform="translate(163.26,2083.80) scale(0.9808,1)" font-size="40.5" font-weight="bold" fill="#000">Striatum Node 3</text>
<rect x="44.00" y="2097.20" width="535.20" height="2.60" fill="#231f20"/>
<text transform="translate(637.96,2074.50) scale(1.0740,1)" font-size="46" font-weight="bold" fill="#231f20">f)</text>
<text transform="translate(778.06,2084.30) scale(0.9751,1)" font-size="40.5" font-weight="bold" fill="#000">Substantia Nigra</text>
<rect x="668.40" y="2096.30" width="536.40" height="2.60" fill="#231f20"/>
<line x1="84.80" y1="979.75" x2="84.80" y2="1292.65" stroke="#000" stroke-width="2.9" stroke-linecap="butt"/>
<line x1="71.20" y1="1291.20" x2="290.70" y2="1291.20" stroke="#000" stroke-width="2.9" stroke-linecap="butt"/>
<line x1="71.20" y1="981.20" x2="84.80" y2="981.20" stroke="#000" stroke-width="2.9" stroke-linecap="butt"/>
<text x="33.50" y="990.58" font-size="24" font-weight="bold" fill="#000">2.5</text>
<line x1="71.20" y1="1043.20" x2="84.80" y2="1043.20" stroke="#000" stroke-width="2.9" stroke-linecap="butt"/>
<text x="33.82" y="1052.58" font-size="24" font-weight="bold" fill="#000">2.0</text>
<line x1="71.20" y1="1105.20" x2="84.80" y2="1105.20" stroke="#000" stroke-width="2.9" stroke-linecap="butt"/>
<text x="33.50" y="1114.58" font-size="24" font-weight="bold" fill="#000">1.5</text>
<line x1="71.20" y1="1167.20" x2="84.80" y2="1167.20" stroke="#000" stroke-width="2.9" stroke-linecap="butt"/>
<text x="33.82" y="1176.58" font-size="24" font-weight="bold" fill="#000">1.0</text>
<line x1="71.20" y1="1229.20" x2="84.80" y2="1229.20" stroke="#000" stroke-width="2.9" stroke-linecap="butt"/>
<text x="33.50" y="1238.58" font-size="24" font-weight="bold" fill="#000">0.5</text>
<line x1="71.20" y1="1291.20" x2="84.80" y2="1291.20" stroke="#000" stroke-width="2.9" stroke-linecap="butt"/>
<text x="33.82" y="1300.58" font-size="24" font-weight="bold" fill="#000">0.0</text>
<line x1="142.90" y1="1291.20" x2="142.90" y2="1304.50" stroke="#000" stroke-width="2.9" stroke-linecap="butt"/>
<line x1="231.20" y1="1291.20" x2="231.20" y2="1304.50" stroke="#000" stroke-width="2.9" stroke-linecap="butt"/>
<text transform="translate(81.41,1392.29) rotate(-45)" font-size="23.24" font-weight="bold" fill="#000">Baseline</text>
<text transform="translate(170.53,1391.36) rotate(-45)" font-size="23.46" font-weight="bold" fill="#000">4 Weeks</text>
<text transform="translate(19.00,1237.31) rotate(-90) scale(1.0059,1.065)" font-size="24.5" font-weight="bold" fill="#000">Global Efficiency</text>
<circle cx="143.1" cy="1020.9" r="4.7" fill="#000"/>
<circle cx="134.6" cy="1077.7" r="4.7" fill="#000"/>
<circle cx="151.7" cy="1086.2" r="4.7" fill="#000"/>
<circle cx="134.6" cy="1092.9" r="4.7" fill="#000"/>
<circle cx="118.7" cy="1118" r="4.7" fill="#000"/>
<circle cx="118.7" cy="1130.3" r="4.7" fill="#000"/>
<circle cx="134.6" cy="1126.6" r="4.7" fill="#000"/>
<circle cx="151.7" cy="1129" r="4.7" fill="#000"/>
<circle cx="168.3" cy="1127.3" r="4.7" fill="#000"/>
<line x1="113.90" y1="1101.10" x2="172.80" y2="1101.10" stroke="#000" stroke-width="3.1" stroke-linecap="butt"/>
<line x1="143.20" y1="1089.00" x2="143.20" y2="1113.30" stroke="#000" stroke-width="2.0" stroke-linecap="butt"/>
<line x1="128.00" y1="1089.00" x2="158.80" y2="1089.00" stroke="#000" stroke-width="1.9" stroke-linecap="butt"/>
<line x1="128.00" y1="1113.30" x2="158.80" y2="1113.30" stroke="#000" stroke-width="1.9" stroke-linecap="butt"/>
<circle cx="222.2" cy="1068.4" r="4.7" fill="#000"/>
<circle cx="241" cy="1061.3" r="4.7" fill="#000"/>
<circle cx="222.2" cy="1112.6" r="4.7" fill="#000"/>
<circle cx="241" cy="1111.9" r="4.7" fill="#000"/>
<circle cx="231.2" cy="1134.4" r="4.7" fill="#000"/>
<circle cx="231.2" cy="1148.6" r="4.7" fill="#000"/>
<line x1="202.60" y1="1106.00" x2="260.60" y2="1106.00" stroke="#000" stroke-width="3.1" stroke-linecap="butt"/>
<line x1="231.40" y1="1091.60" x2="231.40" y2="1120.50" stroke="#000" stroke-width="2.0" stroke-linecap="butt"/>
<line x1="216.50" y1="1091.60" x2="246.60" y2="1091.60" stroke="#000" stroke-width="1.9" stroke-linecap="butt"/>
<line x1="216.50" y1="1120.50" x2="246.60" y2="1120.50" stroke="#000" stroke-width="1.9" stroke-linecap="butt"/>
<line x1="399.70" y1="980.25" x2="399.70" y2="1292.45" stroke="#000" stroke-width="2.9" stroke-linecap="butt"/>
<line x1="387.40" y1="1291.00" x2="606.00" y2="1291.00" stroke="#000" stroke-width="2.9" stroke-linecap="butt"/>
<line x1="387.40" y1="981.70" x2="399.70" y2="981.70" stroke="#000" stroke-width="2.9" stroke-linecap="butt"/>
<text x="340.54" y="991.08" font-size="24" font-weight="bold" fill="#000">400</text>
<line x1="387.40" y1="1043.60" x2="399.70" y2="1043.60" stroke="#000" stroke-width="2.9" stroke-linecap="butt"/>
<text x="340.54" y="1052.98" font-size="24" font-weight="bold" fill="#000">350</text>
<line x1="387.40" y1="1105.50" x2="399.70" y2="1105.50" stroke="#000" stroke-width="2.9" stroke-linecap="butt"/>
<text x="340.54" y="1114.88" font-size="24" font-weight="bold" fill="#000">300</text>
<line x1="387.40" y1="1167.40" x2="399.70" y2="1167.40" stroke="#000" stroke-width="2.9" stroke-linecap="butt"/>
<text x="340.54" y="1176.78" font-size="24" font-weight="bold" fill="#000">250</text>
<line x1="387.40" y1="1229.30" x2="399.70" y2="1229.30" stroke="#000" stroke-width="2.9" stroke-linecap="butt"/>
<text x="340.54" y="1238.68" font-size="24" font-weight="bold" fill="#000">200</text>
<line x1="387.40" y1="1291.00" x2="399.70" y2="1291.00" stroke="#000" stroke-width="2.9" stroke-linecap="butt"/>
<text x="340.54" y="1300.38" font-size="24" font-weight="bold" fill="#000">150</text>
<line x1="458.90" y1="1291.00" x2="458.90" y2="1304.00" stroke="#000" stroke-width="2.9" stroke-linecap="butt"/>
<line x1="547.00" y1="1291.00" x2="547.00" y2="1304.00" stroke="#000" stroke-width="2.9" stroke-linecap="butt"/>
<text transform="translate(397.31,1392.22) rotate(-45)" font-size="23.20" font-weight="bold" fill="#000">Baseline</text>
<text transform="translate(486.41,1391.26) rotate(-45)" font-size="23.40" font-weight="bold" fill="#000">4 Weeks</text>
<text transform="translate(332.60,1294.03) rotate(-90) scale(1.0225,1.065)" font-size="24.5" font-weight="bold" fill="#000">Characteristic Path Length</text>
<circle cx="433.9" cy="1082.7" r="4.7" fill="#000"/>
<circle cx="450.6" cy="1085.3" r="4.7" fill="#000"/>
<circle cx="467.3" cy="1082.2" r="4.7" fill="#000"/>
<circle cx="484" cy="1076.7" r="4.7" fill="#000"/>
<circle cx="459" cy="1103.6" r="4.7" fill="#000"/>
<circle cx="459" cy="1148.5" r="4.7" fill="#000"/>
<circle cx="450.6" cy="1165.7" r="4.7" fill="#000"/>
<circle cx="467.3" cy="1174" r="4.7" fill="#000"/>
<circle cx="459" cy="1226.3" r="4.7" fill="#000"/>
<line x1="429.70" y1="1127.00" x2="488.50" y2="1127.00" stroke="#000" stroke-width="3.1" stroke-linecap="butt"/>
<line x1="459.00" y1="1109.30" x2="459.00" y2="1145.30" stroke="#000" stroke-width="2.0" stroke-linecap="butt"/>
<line x1="443.60" y1="1109.30" x2="474.40" y2="1109.30" stroke="#000" stroke-width="1.9" stroke-linecap="butt"/>
<line x1="443.60" y1="1145.30" x2="474.40" y2="1145.30" stroke="#000" stroke-width="1.9" stroke-linecap="butt"/>
<circle cx="547.5" cy="1027.1" r="4.7" fill="#000"/>
<circle cx="547.5" cy="1065.5" r="4.7" fill="#000"/>
<circle cx="538" cy="1117.9" r="4.7" fill="#000"/>
<circle cx="557.1" cy="1114" r="4.7" fill="#000"/>
<circle cx="538" cy="1196.2" r="4.7" fill="#000"/>
<circle cx="557.1" cy="1190.2" r="4.7" fill="#000"/>
<line x1="518.00" y1="1118.40" x2="576.70" y2="1118.40" stroke="#000" stroke-width="3.1" stroke-linecap="butt"/>
<line x1="547.50" y1="1091.00" x2="547.50" y2="1146.10" stroke="#000" stroke-width="2.0" stroke-linecap="butt"/>
<line x1="532.30" y1="1091.00" x2="562.90" y2="1091.00" stroke="#000" stroke-width="1.9" stroke-linecap="butt"/>
<line x1="532.30" y1="1146.10" x2="562.90" y2="1146.10" stroke="#000" stroke-width="1.9" stroke-linecap="butt"/>
<line x1="706.60" y1="978.95" x2="706.60" y2="1292.45" stroke="#000" stroke-width="2.9" stroke-linecap="butt"/>
<line x1="693.30" y1="1291.00" x2="912.80" y2="1291.00" stroke="#000" stroke-width="2.9" stroke-linecap="butt"/>
<line x1="693.30" y1="980.40" x2="706.60" y2="980.40" stroke="#000" stroke-width="2.9" stroke-linecap="butt"/>
<text x="661.29" y="989.78" font-size="24" font-weight="bold" fill="#000">80</text>
<line x1="693.30" y1="1058.00" x2="706.60" y2="1058.00" stroke="#000" stroke-width="2.9" stroke-linecap="butt"/>
<text x="661.29" y="1067.38" font-size="24" font-weight="bold" fill="#000">60</text>
<line x1="693.30" y1="1135.70" x2="706.60" y2="1135.70" stroke="#000" stroke-width="2.9" stroke-linecap="butt"/>
<text x="661.29" y="1145.08" font-size="24" font-weight="bold" fill="#000">40</text>
<line x1="693.30" y1="1213.30" x2="706.60" y2="1213.30" stroke="#000" stroke-width="2.9" stroke-linecap="butt"/>
<text x="661.29" y="1222.68" font-size="24" font-weight="bold" fill="#000">20</text>
<line x1="693.30" y1="1291.00" x2="706.60" y2="1291.00" stroke="#000" stroke-width="2.9" stroke-linecap="butt"/>
<text x="674.64" y="1300.38" font-size="24" font-weight="bold" fill="#000">0</text>
<line x1="764.90" y1="1291.00" x2="764.90" y2="1303.50" stroke="#000" stroke-width="2.9" stroke-linecap="butt"/>
<line x1="853.50" y1="1291.00" x2="853.50" y2="1303.50" stroke="#000" stroke-width="2.9" stroke-linecap="butt"/>
<text transform="translate(702.67,1391.49) rotate(-45)" font-size="23.15" font-weight="bold" fill="#000">Baseline</text>
<text transform="translate(793.67,1389.97) rotate(-45)" font-size="23.06" font-weight="bold" fill="#000">4 Weeks</text>
<text transform="translate(649.20,1186.52) rotate(-90) scale(1.0204,1.065)" font-size="24.5" font-weight="bold" fill="#000">Strength</text>
<circle cx="765" cy="1067.5" r="4.7" fill="#000"/>
<circle cx="765" cy="1118.2" r="4.7" fill="#000"/>
<circle cx="758.8" cy="1130.2" r="4.7" fill="#000"/>
<circle cx="771.6" cy="1131.5" r="4.7" fill="#000"/>
<circle cx="740" cy="1164.1" r="4.7" fill="#000"/>
<circle cx="752.5" cy="1157.9" r="4.7" fill="#000"/>
<circle cx="765" cy="1161.8" r="4.7" fill="#000"/>
<circle cx="777.8" cy="1159.2" r="4.7" fill="#000"/>
<circle cx="790.1" cy="1167" r="4.7" fill="#000"/>
<line x1="735.80" y1="1139.60" x2="794.80" y2="1139.60" stroke="#000" stroke-width="3.1" stroke-linecap="butt"/>
<line x1="765.00" y1="1129.10" x2="765.00" y2="1150.60" stroke="#000" stroke-width="2.0" stroke-linecap="butt"/>
<line x1="750.20" y1="1129.10" x2="780.20" y2="1129.10" stroke="#000" stroke-width="1.9" stroke-linecap="butt"/>
<line x1="750.20" y1="1150.60" x2="780.20" y2="1150.60" stroke="#000" stroke-width="1.9" stroke-linecap="butt"/>
<circle cx="844.4" cy="1116.6" r="4.7" fill="#000"/>
<circle cx="862.7" cy="1109.3" r="4.7" fill="#000"/>
<circle cx="844.4" cy="1153.4" r="4.7" fill="#000"/>
<circle cx="862.7" cy="1150" r="4.7" fill="#000"/>
<circle cx="862.7" cy="1172" r="4.7" fill="#000"/>
<circle cx="844.4" cy="1180" r="4.7" fill="#000"/>
<line x1="824.60" y1="1146.60" x2="882.80" y2="1146.60" stroke="#000" stroke-width="3.1" stroke-linecap="butt"/>
<line x1="853.50" y1="1134.90" x2="853.50" y2="1158.90" stroke="#000" stroke-width="2.0" stroke-linecap="butt"/>
<line x1="838.70" y1="1134.90" x2="868.90" y2="1134.90" stroke="#000" stroke-width="1.9" stroke-linecap="butt"/>
<line x1="838.70" y1="1158.90" x2="868.90" y2="1158.90" stroke="#000" stroke-width="1.9" stroke-linecap="butt"/>
<line x1="1024.30" y1="989.75" x2="1024.30" y2="1294.65" stroke="#000" stroke-width="2.9" stroke-linecap="butt"/>
<line x1="1011.50" y1="1293.20" x2="1225.50" y2="1293.20" stroke="#000" stroke-width="2.9" stroke-linecap="butt"/>
<line x1="1011.50" y1="991.20" x2="1024.30" y2="991.20" stroke="#000" stroke-width="2.9" stroke-linecap="butt"/>
<text x="973.72" y="1000.58" font-size="24" font-weight="bold" fill="#000">2.0</text>
<line x1="1011.50" y1="1066.70" x2="1024.30" y2="1066.70" stroke="#000" stroke-width="2.9" stroke-linecap="butt"/>
<text x="973.40" y="1076.08" font-size="24" font-weight="bold" fill="#000">1.5</text>
<line x1="1011.50" y1="1142.20" x2="1024.30" y2="1142.20" stroke="#000" stroke-width="2.9" stroke-linecap="butt"/>
<text x="973.72" y="1151.58" font-size="24" font-weight="bold" fill="#000">1.0</text>
<line x1="1011.50" y1="1217.70" x2="1024.30" y2="1217.70" stroke="#000" stroke-width="2.9" stroke-linecap="butt"/>
<text x="973.40" y="1227.08" font-size="24" font-weight="bold" fill="#000">0.5</text>
<line x1="1011.50" y1="1293.20" x2="1024.30" y2="1293.20" stroke="#000" stroke-width="2.9" stroke-linecap="butt"/>
<text x="973.72" y="1302.58" font-size="24" font-weight="bold" fill="#000">0.0</text>
<line x1="1081.60" y1="1293.20" x2="1081.60" y2="1306.00" stroke="#000" stroke-width="2.9" stroke-linecap="butt"/>
<line x1="1167.60" y1="1293.20" x2="1167.60" y2="1306.00" stroke="#000" stroke-width="2.9" stroke-linecap="butt"/>
<text transform="translate(1022.54,1391.21) rotate(-45)" font-size="21.95" font-weight="bold" fill="#000">Baseline</text>
<text transform="translate(1109.93,1389.99) rotate(-45)" font-size="22.04" font-weight="bold" fill="#000">4 Weeks</text>
<text transform="translate(961.20,1268.30) rotate(-90) scale(0.9915,1.065)" font-size="24.5" font-weight="bold" fill="#000">Clustering Coefficient</text>
<circle cx="1081.7" cy="1050.3" r="4.7" fill="#000"/>
<circle cx="1063" cy="1143.9" r="4.7" fill="#000"/>
<circle cx="1081.7" cy="1152.6" r="4.7" fill="#000"/>
<circle cx="1081.7" cy="1171" r="4.7" fill="#000"/>
<circle cx="1063" cy="1180.2" r="4.7" fill="#000"/>
<circle cx="1099.7" cy="1182.5" r="4.7" fill="#000"/>
<circle cx="1081.7" cy="1187.8" r="4.7" fill="#000"/>
<circle cx="1090.5" cy="1197" r="4.7" fill="#000"/>
<circle cx="1072.2" cy="1202.9" r="4.7" fill="#000"/>
<line x1="1052.80" y1="1163.40" x2="1110.20" y2="1163.40" stroke="#000" stroke-width="3.1" stroke-linecap="butt"/>
<line x1="1081.70" y1="1147.20" x2="1081.70" y2="1178.90" stroke="#000" stroke-width="2.0" stroke-linecap="butt"/>
<line x1="1067.20" y1="1147.20" x2="1096.70" y2="1147.20" stroke="#000" stroke-width="1.9" stroke-linecap="butt"/>
<line x1="1067.20" y1="1178.90" x2="1096.70" y2="1178.90" stroke="#000" stroke-width="1.9" stroke-linecap="butt"/>
<circle cx="1167.8" cy="1140.4" r="4.7" fill="#000"/>
<circle cx="1167.8" cy="1165.7" r="4.7" fill="#000"/>
<circle cx="1167.8" cy="1177.5" r="4.7" fill="#000"/>
<circle cx="1167.8" cy="1191.8" r="4.7" fill="#000"/>
<circle cx="1167.8" cy="1201.9" r="4.7" fill="#000"/>
<circle cx="1167.8" cy="1213.1" r="4.7" fill="#000"/>
<line x1="1139.10" y1="1181.70" x2="1196.50" y2="1181.70" stroke="#000" stroke-width="3.1" stroke-linecap="butt"/>
<line x1="1167.80" y1="1170.80" x2="1167.80" y2="1192.50" stroke="#000" stroke-width="2.0" stroke-linecap="butt"/>
<line x1="1153.30" y1="1170.80" x2="1182.50" y2="1170.80" stroke="#000" stroke-width="1.9" stroke-linecap="butt"/>
<line x1="1153.30" y1="1192.50" x2="1182.50" y2="1192.50" stroke="#000" stroke-width="1.9" stroke-linecap="butt"/>
<line x1="102.20" y1="1646.95" x2="102.20" y2="1929.15" stroke="#000" stroke-width="2.9" stroke-linecap="butt"/>
<line x1="90.30" y1="1927.70" x2="287.50" y2="1927.70" stroke="#000" stroke-width="2.9" stroke-linecap="butt"/>
<line x1="90.30" y1="1648.40" x2="102.20" y2="1648.40" stroke="#000" stroke-width="2.9" stroke-linecap="butt"/>
<text x="42.92" y="1656.42" font-size="22.4" font-weight="bold" fill="#000">0.60</text>
<line x1="90.30" y1="1704.30" x2="102.20" y2="1704.30" stroke="#000" stroke-width="2.9" stroke-linecap="butt"/>
<text x="42.63" y="1712.32" font-size="22.4" font-weight="bold" fill="#000">0.55</text>
<line x1="90.30" y1="1760.20" x2="102.20" y2="1760.20" stroke="#000" stroke-width="2.9" stroke-linecap="butt"/>
<text x="42.92" y="1768.22" font-size="22.4" font-weight="bold" fill="#000">0.50</text>
<line x1="90.30" y1="1816.10" x2="102.20" y2="1816.10" stroke="#000" stroke-width="2.9" stroke-linecap="butt"/>
<text x="42.63" y="1824.12" font-size="22.4" font-weight="bold" fill="#000">0.45</text>
<line x1="90.30" y1="1871.90" x2="102.20" y2="1871.90" stroke="#000" stroke-width="2.9" stroke-linecap="butt"/>
<text x="42.92" y="1879.92" font-size="22.4" font-weight="bold" fill="#000">0.40</text>
<line x1="90.30" y1="1927.70" x2="102.20" y2="1927.70" stroke="#000" stroke-width="2.9" stroke-linecap="butt"/>
<text x="42.63" y="1935.72" font-size="22.4" font-weight="bold" fill="#000">0.35</text>
<line x1="154.60" y1="1927.70" x2="154.60" y2="1939.00" stroke="#000" stroke-width="2.9" stroke-linecap="butt"/>
<line x1="234.40" y1="1927.70" x2="234.40" y2="1939.00" stroke="#000" stroke-width="2.9" stroke-linecap="butt"/>
<text transform="translate(98.92,2019.06) rotate(-45)" font-size="21.32" font-weight="bold" fill="#000">Baseline</text>
<text transform="translate(180.90,2017.83) rotate(-45)" font-size="21.01" font-weight="bold" fill="#000">4 Weeks</text>
<text transform="translate(37.50,1926.14) rotate(-90) scale(0.9993,1.065)" font-size="24.6" font-weight="bold" fill="#000">Participation Coefficient</text>
<circle cx="154.6" cy="1705.9" r="3.9" fill="#3e5daa"/>
<circle cx="154.6" cy="1740.1" r="3.9" fill="#3e5daa"/>
<circle cx="154.6" cy="1757.2" r="3.9" fill="#3e5daa"/>
<circle cx="154.6" cy="1776.3" r="3.9" fill="#3e5daa"/>
<circle cx="154.6" cy="1787.8" r="3.9" fill="#3e5daa"/>
<circle cx="163.2" cy="1836.1" r="3.9" fill="#3e5daa"/>
<circle cx="146.3" cy="1844" r="3.9" fill="#3e5daa"/>
<circle cx="154.6" cy="1875.9" r="3.9" fill="#3e5daa"/>
<circle cx="154.6" cy="1886.9" r="3.9" fill="#3e5daa"/>
<line x1="128.50" y1="1800.80" x2="181.50" y2="1800.80" stroke="#000" stroke-width="3.1" stroke-linecap="butt"/>
<line x1="154.60" y1="1779.70" x2="154.60" y2="1822.10" stroke="#000" stroke-width="2.0" stroke-linecap="butt"/>
<line x1="141.20" y1="1779.70" x2="168.80" y2="1779.70" stroke="#000" stroke-width="1.9" stroke-linecap="butt"/>
<line x1="141.20" y1="1822.10" x2="168.80" y2="1822.10" stroke="#000" stroke-width="1.9" stroke-linecap="butt"/>
<circle cx="234.4" cy="1673.6" r="3.9" fill="#3e5daa"/>
<circle cx="226.3" cy="1693.6" r="3.9" fill="#3e5daa"/>
<circle cx="242.7" cy="1698.5" r="3.9" fill="#3e5daa"/>
<circle cx="234.4" cy="1710" r="3.9" fill="#3e5daa"/>
<circle cx="234.4" cy="1740.1" r="3.9" fill="#3e5daa"/>
<circle cx="234.4" cy="1773.1" r="3.9" fill="#3e5daa"/>
<line x1="208.00" y1="1714.40" x2="261.30" y2="1714.40" stroke="#000" stroke-width="3.1" stroke-linecap="butt"/>
<line x1="234.40" y1="1700.20" x2="234.40" y2="1729.60" stroke="#000" stroke-width="2.0" stroke-linecap="butt"/>
<line x1="221.00" y1="1700.20" x2="248.30" y2="1700.20" stroke="#000" stroke-width="1.9" stroke-linecap="butt"/>
<line x1="221.00" y1="1729.60" x2="248.30" y2="1729.60" stroke="#000" stroke-width="1.9" stroke-linecap="butt"/>
<line x1="153.70" y1="1660.60" x2="235.60" y2="1660.60" stroke="#000" stroke-width="3.0" stroke-linecap="round"/>
<text x="185.14" y="1658.68" font-size="24" font-weight="bold" fill="#000">**</text>
<line x1="399.80" y1="1646.95" x2="399.80" y2="1927.95" stroke="#000" stroke-width="2.9" stroke-linecap="butt"/>
<line x1="389.30" y1="1926.50" x2="585.80" y2="1926.50" stroke="#000" stroke-width="2.9" stroke-linecap="butt"/>
<line x1="389.30" y1="1648.40" x2="399.80" y2="1648.40" stroke="#000" stroke-width="2.9" stroke-linecap="butt"/>
<text x="341.32" y="1656.42" font-size="22.4" font-weight="bold" fill="#000">0.60</text>
<line x1="389.30" y1="1704.00" x2="399.80" y2="1704.00" stroke="#000" stroke-width="2.9" stroke-linecap="butt"/>
<text x="341.03" y="1712.02" font-size="22.4" font-weight="bold" fill="#000">0.55</text>
<line x1="389.30" y1="1759.60" x2="399.80" y2="1759.60" stroke="#000" stroke-width="2.9" stroke-linecap="butt"/>
<text x="341.32" y="1767.62" font-size="22.4" font-weight="bold" fill="#000">0.50</text>
<line x1="389.30" y1="1815.00" x2="399.80" y2="1815.00" stroke="#000" stroke-width="2.9" stroke-linecap="butt"/>
<text x="341.03" y="1823.02" font-size="22.4" font-weight="bold" fill="#000">0.45</text>
<line x1="389.30" y1="1870.70" x2="399.80" y2="1870.70" stroke="#000" stroke-width="2.9" stroke-linecap="butt"/>
<text x="341.32" y="1878.72" font-size="22.4" font-weight="bold" fill="#000">0.40</text>
<line x1="389.30" y1="1926.50" x2="399.80" y2="1926.50" stroke="#000" stroke-width="2.9" stroke-linecap="butt"/>
<text x="341.03" y="1934.52" font-size="22.4" font-weight="bold" fill="#000">0.35</text>
<line x1="453.40" y1="1926.50" x2="453.40" y2="1937.50" stroke="#000" stroke-width="2.9" stroke-linecap="butt"/>
<line x1="532.40" y1="1926.50" x2="532.40" y2="1937.50" stroke="#000" stroke-width="2.9" stroke-linecap="butt"/>
<text transform="translate(397.59,2016.58) rotate(-45)" font-size="20.93" font-weight="bold" fill="#000">Baseline</text>
<text transform="translate(478.65,2015.71) rotate(-45)" font-size="20.81" font-weight="bold" fill="#000">4 Weeks</text>
<rect x="440.80" y="1675.10" width="8.6" height="8.6" fill="#ec3324"/>
<rect x="457.20" y="1675.10" width="8.6" height="8.6" fill="#ec3324"/>
<rect x="449.10" y="1683.70" width="8.6" height="8.6" fill="#ec3324"/>
<rect x="440.80" y="1752.20" width="8.6" height="8.6" fill="#ec3324"/>
<rect x="457.20" y="1746.10" width="8.6" height="8.6" fill="#ec3324"/>
<rect x="449.10" y="1830.00" width="8.6" height="8.6" fill="#ec3324"/>
<rect x="449.10" y="1864.90" width="8.6" height="8.6" fill="#ec3324"/>
<rect x="449.10" y="1876.40" width="8.6" height="8.6" fill="#ec3324"/>
<rect x="449.10" y="1894.10" width="8.6" height="8.6" fill="#ec3324"/>
<line x1="427.20" y1="1781.70" x2="479.80" y2="1781.70" stroke="#000" stroke-width="3.1" stroke-linecap="butt"/>
<line x1="453.40" y1="1751.60" x2="453.40" y2="1811.50" stroke="#000" stroke-width="2.0" stroke-linecap="butt"/>
<line x1="440.00" y1="1751.60" x2="467.10" y2="1751.60" stroke="#000" stroke-width="1.9" stroke-linecap="butt"/>
<line x1="440.00" y1="1811.50" x2="467.10" y2="1811.50" stroke="#000" stroke-width="1.9" stroke-linecap="butt"/>
<rect x="544.80" y="1700.30" width="8.6" height="8.6" fill="#ec3324"/>
<rect x="511.70" y="1712.60" width="8.6" height="8.6" fill="#ec3324"/>
<rect x="528.10" y="1708.20" width="8.6" height="8.6" fill="#ec3324"/>
<rect x="544.80" y="1715.50" width="8.6" height="8.6" fill="#ec3324"/>
<rect x="528.10" y="1724.10" width="8.6" height="8.6" fill="#ec3324"/>
<rect x="528.10" y="1757.10" width="8.6" height="8.6" fill="#ec3324"/>
<line x1="506.30" y1="1723.70" x2="558.90" y2="1723.70" stroke="#000" stroke-width="3.1" stroke-linecap="butt"/>
<line x1="532.40" y1="1715.60" x2="532.40" y2="1731.80" stroke="#000" stroke-width="2.0" stroke-linecap="butt"/>
<line x1="519.00" y1="1715.60" x2="546.40" y2="1715.60" stroke="#000" stroke-width="1.9" stroke-linecap="butt"/>
<line x1="519.00" y1="1731.80" x2="546.40" y2="1731.80" stroke="#000" stroke-width="1.9" stroke-linecap="butt"/>
<line x1="711.80" y1="1646.95" x2="711.80" y2="1928.85" stroke="#000" stroke-width="2.9" stroke-linecap="butt"/>
<line x1="700.50" y1="1927.40" x2="897.20" y2="1927.40" stroke="#000" stroke-width="2.9" stroke-linecap="butt"/>
<line x1="700.50" y1="1648.40" x2="711.80" y2="1648.40" stroke="#000" stroke-width="2.9" stroke-linecap="butt"/>
<text x="665.18" y="1656.42" font-size="22.4" font-weight="bold" fill="#000">1.0</text>
<line x1="700.50" y1="1704.20" x2="711.80" y2="1704.20" stroke="#000" stroke-width="2.9" stroke-linecap="butt"/>
<text x="664.95" y="1712.22" font-size="22.4" font-weight="bold" fill="#000">0.8</text>
<line x1="700.50" y1="1760.00" x2="711.80" y2="1760.00" stroke="#000" stroke-width="2.9" stroke-linecap="butt"/>
<text x="665.07" y="1768.02" font-size="22.4" font-weight="bold" fill="#000">0.6</text>
<line x1="700.50" y1="1815.80" x2="711.80" y2="1815.80" stroke="#000" stroke-width="2.9" stroke-linecap="butt"/>
<text x="664.38" y="1823.82" font-size="22.4" font-weight="bold" fill="#000">0.4</text>
<line x1="700.50" y1="1871.60" x2="711.80" y2="1871.60" stroke="#000" stroke-width="2.9" stroke-linecap="butt"/>
<text x="665.16" y="1879.62" font-size="22.4" font-weight="bold" fill="#000">0.2</text>
<line x1="700.50" y1="1927.40" x2="711.80" y2="1927.40" stroke="#000" stroke-width="2.9" stroke-linecap="butt"/>
<text x="665.18" y="1935.42" font-size="22.4" font-weight="bold" fill="#000">0.0</text>
<line x1="764.40" y1="1927.40" x2="764.40" y2="1939.00" stroke="#000" stroke-width="2.9" stroke-linecap="butt"/>
<line x1="844.00" y1="1927.40" x2="844.00" y2="1939.00" stroke="#000" stroke-width="2.9" stroke-linecap="butt"/>
<text transform="translate(708.99,2017.78) rotate(-45)" font-size="20.93" font-weight="bold" fill="#000">Baseline</text>
<text transform="translate(790.19,2016.85) rotate(-45)" font-size="20.78" font-weight="bold" fill="#000">4 Weeks</text>
<text transform="translate(657.50,1926.14) rotate(-90) scale(0.9993,1.065)" font-size="24.6" font-weight="bold" fill="#000">Participation Coefficient</text>
<circle cx="764.4" cy="1749.4" r="3.9" fill="#3e5daa"/>
<circle cx="764.4" cy="1765.1" r="3.9" fill="#3e5daa"/>
<circle cx="755.8" cy="1778.8" r="3.9" fill="#3e5daa"/>
<circle cx="772.9" cy="1783.7" r="3.9" fill="#3e5daa"/>
<circle cx="756" cy="1814.7" r="3.9" fill="#3e5daa"/>
<circle cx="772.9" cy="1816.7" r="3.9" fill="#3e5daa"/>
<circle cx="756" cy="1826.5" r="3.9" fill="#3e5daa"/>
<circle cx="772.9" cy="1832.2" r="3.9" fill="#3e5daa"/>
<circle cx="764.4" cy="1858.7" r="3.9" fill="#3e5daa"/>
<line x1="738.20" y1="1803.00" x2="791.30" y2="1803.00" stroke="#000" stroke-width="3.1" stroke-linecap="butt"/>
<line x1="764.40" y1="1791.00" x2="764.40" y2="1814.70" stroke="#000" stroke-width="2.0" stroke-linecap="butt"/>
<line x1="750.90" y1="1791.00" x2="778.60" y2="1791.00" stroke="#000" stroke-width="1.9" stroke-linecap="butt"/>
<line x1="750.90" y1="1814.70" x2="778.60" y2="1814.70" stroke="#000" stroke-width="1.9" stroke-linecap="butt"/>
<circle cx="844.1" cy="1734" r="3.9" fill="#3e5daa"/>
<circle cx="835.6" cy="1745" r="3.9" fill="#3e5daa"/>
<circle cx="852.7" cy="1751.6" r="3.9" fill="#3e5daa"/>
<circle cx="835.6" cy="1754.8" r="3.9" fill="#3e5daa"/>
<circle cx="844.1" cy="1769" r="3.9" fill="#3e5daa"/>
<circle cx="844.1" cy="1783.7" r="3.9" fill="#3e5daa"/>
<line x1="817.70" y1="1756.50" x2="870.80" y2="1756.50" stroke="#000" stroke-width="3.1" stroke-linecap="butt"/>
<line x1="844.10" y1="1749.40" x2="844.10" y2="1763.60" stroke="#000" stroke-width="2.0" stroke-linecap="butt"/>
<line x1="830.40" y1="1749.40" x2="857.80" y2="1749.40" stroke="#000" stroke-width="1.9" stroke-linecap="butt"/>
<line x1="830.40" y1="1763.60" x2="857.80" y2="1763.60" stroke="#000" stroke-width="1.9" stroke-linecap="butt"/>
<line x1="763.10" y1="1701.40" x2="845.30" y2="1701.40" stroke="#000" stroke-width="3.0" stroke-linecap="round"/>
<text x="800.01" y="1699.48" font-size="24" font-weight="bold" fill="#000">*</text>
<line x1="1015.30" y1="1646.95" x2="1015.30" y2="1928.85" stroke="#000" stroke-width="2.9" stroke-linecap="butt"/>
<line x1="1003.80" y1="1927.40" x2="1200.80" y2="1927.40" stroke="#000" stroke-width="2.9" stroke-linecap="butt"/>
<line x1="1003.80" y1="1648.40" x2="1015.30" y2="1648.40" stroke="#000" stroke-width="2.9" stroke-linecap="butt"/>
<text x="968.78" y="1656.42" font-size="22.4" font-weight="bold" fill="#000">1.0</text>
<line x1="1003.80" y1="1704.20" x2="1015.30" y2="1704.20" stroke="#000" stroke-width="2.9" stroke-linecap="butt"/>
<text x="968.55" y="1712.22" font-size="22.4" font-weight="bold" fill="#000">0.8</text>
<line x1="1003.80" y1="1760.00" x2="1015.30" y2="1760.00" stroke="#000" stroke-width="2.9" stroke-linecap="butt"/>
<text x="968.67" y="1768.02" font-size="22.4" font-weight="bold" fill="#000">0.6</text>
<line x1="1003.80" y1="1815.80" x2="1015.30" y2="1815.80" stroke="#000" stroke-width="2.9" stroke-linecap="butt"/>
<text x="967.98" y="1823.82" font-size="22.4" font-weight="bold" fill="#000">0.4</text>
<line x1="1003.80" y1="1871.60" x2="1015.30" y2="1871.60" stroke="#000" stroke-width="2.9" stroke-linecap="butt"/>
<text x="968.76" y="1879.62" font-size="22.4" font-weight="bold" fill="#000">0.2</text>
<line x1="1003.80" y1="1927.40" x2="1015.30" y2="1927.40" stroke="#000" stroke-width="2.9" stroke-linecap="butt"/>
<text x="968.78" y="1935.42" font-size="22.4" font-weight="bold" fill="#000">0.0</text>
<line x1="1067.60" y1="1927.40" x2="1067.60" y2="1939.00" stroke="#000" stroke-width="2.9" stroke-linecap="butt"/>
<line x1="1147.40" y1="1927.40" x2="1147.40" y2="1939.00" stroke="#000" stroke-width="2.9" stroke-linecap="butt"/>
<text transform="translate(1012.82,2018.07) rotate(-45)" font-size="20.74" font-weight="bold" fill="#000">Baseline</text>
<text transform="translate(1093.67,2016.83) rotate(-45)" font-size="20.79" font-weight="bold" fill="#000">4 Weeks</text>
<rect x="1063.60" y="1708.90" width="8.6" height="8.6" fill="#ec3324"/>
<rect x="1047.00" y="1724.80" width="8.6" height="8.6" fill="#ec3324"/>
<rect x="1080.30" y="1723.60" width="8.6" height="8.6" fill="#ec3324"/>
<rect x="1063.60" y="1732.10" width="8.6" height="8.6" fill="#ec3324"/>
<rect x="1063.60" y="1738.30" width="8.6" height="8.6" fill="#ec3324"/>
<rect x="1047.00" y="1742.70" width="8.6" height="8.6" fill="#ec3324"/>
<rect x="1080.30" y="1743.10" width="8.6" height="8.6" fill="#ec3324"/>
<rect x="1063.60" y="1749.30" width="8.6" height="8.6" fill="#ec3324"/>
<rect x="1063.60" y="1767.10" width="8.6" height="8.6" fill="#ec3324"/>
<line x1="1041.70" y1="1741.30" x2="1094.80" y2="1741.30" stroke="#000" stroke-width="3.1" stroke-linecap="butt"/>
<line x1="1067.90" y1="1735.70" x2="1067.90" y2="1747.00" stroke="#000" stroke-width="2.0" stroke-linecap="butt"/>
<line x1="1054.50" y1="1735.70" x2="1081.40" y2="1735.70" stroke="#000" stroke-width="1.9" stroke-linecap="butt"/>
<line x1="1054.50" y1="1747.00" x2="1081.40" y2="1747.00" stroke="#000" stroke-width="1.9" stroke-linecap="butt"/>
<rect x="1143.10" y="1745.60" width="8.6" height="8.6" fill="#ec3324"/>
<rect x="1143.10" y="1771.30" width="8.6" height="8.6" fill="#ec3324"/>
<rect x="1151.70" y="1780.30" width="8.6" height="8.6" fill="#ec3324"/>
<rect x="1135.10" y="1784.30" width="8.6" height="8.6" fill="#ec3324"/>
<rect x="1151.70" y="1810.90" width="8.6" height="8.6" fill="#ec3324"/>
<rect x="1135.10" y="1816.10" width="8.6" height="8.6" fill="#ec3324"/>
<line x1="1121.30" y1="1789.00" x2="1173.90" y2="1789.00" stroke="#000" stroke-width="3.1" stroke-linecap="butt"/>
<line x1="1147.40" y1="1778.50" x2="1147.40" y2="1799.60" stroke="#000" stroke-width="2.0" stroke-linecap="butt"/>
<line x1="1134.00" y1="1778.50" x2="1161.40" y2="1778.50" stroke="#000" stroke-width="1.9" stroke-linecap="butt"/>
<line x1="1134.00" y1="1799.60" x2="1161.40" y2="1799.60" stroke="#000" stroke-width="1.9" stroke-linecap="butt"/>
<line x1="1067.40" y1="1680.20" x2="1148.70" y2="1680.20" stroke="#000" stroke-width="3.0" stroke-linecap="round"/>
<text x="1094.27" y="1678.28" font-size="24" font-weight="bold" fill="#000">***</text>
<line x1="90.50" y1="2118.15" x2="90.50" y2="2398.65" stroke="#000" stroke-width="2.9" stroke-linecap="butt"/>
<line x1="78.80" y1="2397.20" x2="275.80" y2="2397.20" stroke="#000" stroke-width="2.9" stroke-linecap="butt"/>
<line x1="78.80" y1="2119.60" x2="90.50" y2="2119.60" stroke="#000" stroke-width="2.9" stroke-linecap="butt"/>
<text x="43.98" y="2127.62" font-size="22.4" font-weight="bold" fill="#000">1.0</text>
<line x1="78.80" y1="2175.10" x2="90.50" y2="2175.10" stroke="#000" stroke-width="2.9" stroke-linecap="butt"/>
<text x="43.75" y="2183.12" font-size="22.4" font-weight="bold" fill="#000">0.8</text>
<line x1="78.80" y1="2230.60" x2="90.50" y2="2230.60" stroke="#000" stroke-width="2.9" stroke-linecap="butt"/>
<text x="43.87" y="2238.62" font-size="22.4" font-weight="bold" fill="#000">0.6</text>
<line x1="78.80" y1="2286.20" x2="90.50" y2="2286.20" stroke="#000" stroke-width="2.9" stroke-linecap="butt"/>
<text x="43.18" y="2294.22" font-size="22.4" font-weight="bold" fill="#000">0.4</text>
<line x1="78.80" y1="2341.70" x2="90.50" y2="2341.70" stroke="#000" stroke-width="2.9" stroke-linecap="butt"/>
<text x="43.96" y="2349.72" font-size="22.4" font-weight="bold" fill="#000">0.2</text>
<line x1="78.80" y1="2397.20" x2="90.50" y2="2397.20" stroke="#000" stroke-width="2.9" stroke-linecap="butt"/>
<text x="43.98" y="2405.22" font-size="22.4" font-weight="bold" fill="#000">0.0</text>
<line x1="143.10" y1="2397.20" x2="143.10" y2="2408.70" stroke="#000" stroke-width="2.9" stroke-linecap="butt"/>
<line x1="222.40" y1="2397.20" x2="222.40" y2="2408.70" stroke="#000" stroke-width="2.9" stroke-linecap="butt"/>
<text transform="translate(88.00,2487.34) rotate(-45)" font-size="20.76" font-weight="bold" fill="#000">Baseline</text>
<text transform="translate(168.85,2486.11) rotate(-45)" font-size="20.81" font-weight="bold" fill="#000">4 Weeks</text>
<text transform="translate(37.50,2398.16) rotate(-90) scale(1.0072,1.065)" font-size="24.6" font-weight="bold" fill="#000">Participation Coefficient</text>
<circle cx="126.5" cy="2190.5" r="3.9" fill="#3e5daa"/>
<circle cx="143.1" cy="2194.9" r="3.9" fill="#3e5daa"/>
<circle cx="143.1" cy="2205.9" r="3.9" fill="#3e5daa"/>
<circle cx="126.5" cy="2226.7" r="3.9" fill="#3e5daa"/>
<circle cx="143.1" cy="2232.6" r="3.9" fill="#3e5daa"/>
<circle cx="159.8" cy="2232.1" r="3.9" fill="#3e5daa"/>
<circle cx="143.1" cy="2256.6" r="3.9" fill="#3e5daa"/>
<circle cx="143.1" cy="2298.4" r="3.9" fill="#3e5daa"/>
<circle cx="143.1" cy="2324.3" r="3.9" fill="#3e5daa"/>
<line x1="117.00" y1="2240.20" x2="170.00" y2="2240.20" stroke="#000" stroke-width="3.1" stroke-linecap="butt"/>
<line x1="143.10" y1="2224.80" x2="143.10" y2="2255.60" stroke="#000" stroke-width="2.0" stroke-linecap="butt"/>
<line x1="129.70" y1="2224.80" x2="156.60" y2="2224.80" stroke="#000" stroke-width="1.9" stroke-linecap="butt"/>
<line x1="129.70" y1="2255.60" x2="156.60" y2="2255.60" stroke="#000" stroke-width="1.9" stroke-linecap="butt"/>
<circle cx="222.7" cy="2190" r="3.9" fill="#3e5daa"/>
<circle cx="214.1" cy="2207.7" r="3.9" fill="#3e5daa"/>
<circle cx="230.7" cy="2212.6" r="3.9" fill="#3e5daa"/>
<circle cx="214.1" cy="2219.4" r="3.9" fill="#3e5daa"/>
<circle cx="222.7" cy="2265.9" r="3.9" fill="#3e5daa"/>
<circle cx="222.7" cy="2339.7" r="3.9" fill="#3e5daa"/>
<line x1="196.50" y1="2239.00" x2="249.10" y2="2239.00" stroke="#000" stroke-width="3.1" stroke-linecap="butt"/>
<line x1="222.70" y1="2216.50" x2="222.70" y2="2261.70" stroke="#000" stroke-width="2.0" stroke-linecap="butt"/>
<line x1="209.20" y1="2216.50" x2="236.10" y2="2216.50" stroke="#000" stroke-width="1.9" stroke-linecap="butt"/>
<line x1="209.20" y1="2261.70" x2="236.10" y2="2261.70" stroke="#000" stroke-width="1.9" stroke-linecap="butt"/>
<line x1="390.00" y1="2118.15" x2="390.00" y2="2398.65" stroke="#000" stroke-width="2.9" stroke-linecap="butt"/>
<line x1="378.30" y1="2397.20" x2="575.30" y2="2397.20" stroke="#000" stroke-width="2.9" stroke-linecap="butt"/>
<line x1="378.30" y1="2119.60" x2="390.00" y2="2119.60" stroke="#000" stroke-width="2.9" stroke-linecap="butt"/>
<text x="343.28" y="2127.62" font-size="22.4" font-weight="bold" fill="#000">1.0</text>
<line x1="378.30" y1="2175.10" x2="390.00" y2="2175.10" stroke="#000" stroke-width="2.9" stroke-linecap="butt"/>
<text x="343.05" y="2183.12" font-size="22.4" font-weight="bold" fill="#000">0.8</text>
<line x1="378.30" y1="2230.60" x2="390.00" y2="2230.60" stroke="#000" stroke-width="2.9" stroke-linecap="butt"/>
<text x="343.17" y="2238.62" font-size="22.4" font-weight="bold" fill="#000">0.6</text>
<line x1="378.30" y1="2286.20" x2="390.00" y2="2286.20" stroke="#000" stroke-width="2.9" stroke-linecap="butt"/>
<text x="342.48" y="2294.22" font-size="22.4" font-weight="bold" fill="#000">0.4</text>
<line x1="378.30" y1="2341.70" x2="390.00" y2="2341.70" stroke="#000" stroke-width="2.9" stroke-linecap="butt"/>
<text x="343.26" y="2349.72" font-size="22.4" font-weight="bold" fill="#000">0.2</text>
<line x1="378.30" y1="2397.20" x2="390.00" y2="2397.20" stroke="#000" stroke-width="2.9" stroke-linecap="butt"/>
<text x="343.28" y="2405.22" font-size="22.4" font-weight="bold" fill="#000">0.0</text>
<line x1="442.40" y1="2397.20" x2="442.40" y2="2408.70" stroke="#000" stroke-width="2.9" stroke-linecap="butt"/>
<line x1="521.90" y1="2397.20" x2="521.90" y2="2408.70" stroke="#000" stroke-width="2.9" stroke-linecap="butt"/>
<text transform="translate(388.00,2487.34) rotate(-45)" font-size="20.76" font-weight="bold" fill="#000">Baseline</text>
<text transform="translate(467.65,2486.11) rotate(-45)" font-size="20.81" font-weight="bold" fill="#000">4 Weeks</text>
<rect x="438.10" y="2183.10" width="8.6" height="8.6" fill="#ec3324"/>
<rect x="438.10" y="2193.10" width="8.6" height="8.6" fill="#ec3324"/>
<rect x="421.50" y="2199.70" width="8.6" height="8.6" fill="#ec3324"/>
<rect x="454.70" y="2200.40" width="8.6" height="8.6" fill="#ec3324"/>
<rect x="438.10" y="2210.20" width="8.6" height="8.6" fill="#ec3324"/>
<rect x="454.70" y="2213.90" width="8.6" height="8.6" fill="#ec3324"/>
<rect x="438.10" y="2220.00" width="8.6" height="8.6" fill="#ec3324"/>
<rect x="438.10" y="2251.60" width="8.6" height="8.6" fill="#ec3324"/>
<rect x="438.10" y="2260.10" width="8.6" height="8.6" fill="#ec3324"/>
<line x1="416.20" y1="2219.20" x2="468.80" y2="2219.20" stroke="#000" stroke-width="3.1" stroke-linecap="butt"/>
<line x1="442.40" y1="2210.60" x2="442.40" y2="2227.70" stroke="#000" stroke-width="2.0" stroke-linecap="butt"/>
<line x1="429.20" y1="2210.60" x2="455.90" y2="2210.60" stroke="#000" stroke-width="1.9" stroke-linecap="butt"/>
<line x1="429.20" y1="2227.70" x2="455.90" y2="2227.70" stroke="#000" stroke-width="1.9" stroke-linecap="butt"/>
<rect x="517.60" y="2199.00" width="8.6" height="8.6" fill="#ec3324"/>
<rect x="517.60" y="2265.20" width="8.6" height="8.6" fill="#ec3324"/>
<rect x="517.60" y="2278.90" width="8.6" height="8.6" fill="#ec3324"/>
<rect x="517.60" y="2294.30" width="8.6" height="8.6" fill="#ec3324"/>
<rect x="517.60" y="2314.60" width="8.6" height="8.6" fill="#ec3324"/>
<rect x="517.60" y="2343.20" width="8.6" height="8.6" fill="#ec3324"/>
<line x1="495.70" y1="2286.40" x2="548.30" y2="2286.40" stroke="#000" stroke-width="3.1" stroke-linecap="butt"/>
<line x1="521.90" y1="2265.90" x2="521.90" y2="2306.80" stroke="#000" stroke-width="2.0" stroke-linecap="butt"/>
<line x1="508.70" y1="2265.90" x2="535.60" y2="2265.90" stroke="#000" stroke-width="1.9" stroke-linecap="butt"/>
<line x1="508.70" y1="2306.80" x2="535.60" y2="2306.80" stroke="#000" stroke-width="1.9" stroke-linecap="butt"/>
<line x1="441.90" y1="2154.30" x2="523.10" y2="2154.30" stroke="#000" stroke-width="3.0" stroke-linecap="round"/>
<text x="472.94" y="2152.38" font-size="24" font-weight="bold" fill="#000">**</text>
<line x1="716.60" y1="2118.15" x2="716.60" y2="2398.65" stroke="#000" stroke-width="2.9" stroke-linecap="butt"/>
<line x1="704.40" y1="2397.20" x2="901.40" y2="2397.20" stroke="#000" stroke-width="2.9" stroke-linecap="butt"/>
<line x1="704.40" y1="2119.60" x2="716.60" y2="2119.60" stroke="#000" stroke-width="2.9" stroke-linecap="butt"/>
<text x="670.08" y="2127.62" font-size="22.4" font-weight="bold" fill="#000">1.0</text>
<line x1="704.40" y1="2175.10" x2="716.60" y2="2175.10" stroke="#000" stroke-width="2.9" stroke-linecap="butt"/>
<text x="669.85" y="2183.12" font-size="22.4" font-weight="bold" fill="#000">0.8</text>
<line x1="704.40" y1="2230.60" x2="716.60" y2="2230.60" stroke="#000" stroke-width="2.9" stroke-linecap="butt"/>
<text x="669.97" y="2238.62" font-size="22.4" font-weight="bold" fill="#000">0.6</text>
<line x1="704.40" y1="2286.20" x2="716.60" y2="2286.20" stroke="#000" stroke-width="2.9" stroke-linecap="butt"/>
<text x="669.28" y="2294.22" font-size="22.4" font-weight="bold" fill="#000">0.4</text>
<line x1="704.40" y1="2341.70" x2="716.60" y2="2341.70" stroke="#000" stroke-width="2.9" stroke-linecap="butt"/>
<text x="670.06" y="2349.72" font-size="22.4" font-weight="bold" fill="#000">0.2</text>
<line x1="704.40" y1="2397.20" x2="716.60" y2="2397.20" stroke="#000" stroke-width="2.9" stroke-linecap="butt"/>
<text x="670.08" y="2405.22" font-size="22.4" font-weight="bold" fill="#000">0.0</text>
<line x1="768.70" y1="2397.20" x2="768.70" y2="2409.00" stroke="#000" stroke-width="2.9" stroke-linecap="butt"/>
<line x1="848.30" y1="2397.20" x2="848.30" y2="2409.00" stroke="#000" stroke-width="2.9" stroke-linecap="butt"/>
<text transform="translate(714.34,2486.36) rotate(-45)" font-size="20.55" font-weight="bold" fill="#000">Baseline</text>
<text transform="translate(794.86,2484.79) rotate(-45)" font-size="20.39" font-weight="bold" fill="#000">4 Weeks</text>
<text transform="translate(664.00,2398.16) rotate(-90) scale(1.0072,1.065)" font-size="24.6" font-weight="bold" fill="#000">Participation Coefficient</text>
<circle cx="769.3" cy="2198.6" r="3.9" fill="#3e5daa"/>
<circle cx="769.3" cy="2227.2" r="3.9" fill="#3e5daa"/>
<circle cx="769.3" cy="2270.5" r="3.9" fill="#3e5daa"/>
<circle cx="769.3" cy="2294.9" r="3.9" fill="#3e5daa"/>
<circle cx="769.3" cy="2306.6" r="3.9" fill="#3e5daa"/>
<circle cx="769.3" cy="2318.9" r="3.9" fill="#3e5daa"/>
<circle cx="769.3" cy="2334.8" r="3.9" fill="#3e5daa"/>
<circle cx="760.7" cy="2397.2" r="3.9" fill="#3e5daa"/>
<circle cx="777.3" cy="2397.2" r="3.9" fill="#3e5daa"/>
<line x1="742.80" y1="2305.10" x2="795.40" y2="2305.10" stroke="#000" stroke-width="3.1" stroke-linecap="butt"/>
<line x1="769.30" y1="2282.50" x2="769.30" y2="2328.00" stroke="#000" stroke-width="2.0" stroke-linecap="butt"/>
<line x1="755.80" y1="2282.50" x2="782.70" y2="2282.50" stroke="#000" stroke-width="1.9" stroke-linecap="butt"/>
<line x1="755.80" y1="2328.00" x2="782.70" y2="2328.00" stroke="#000" stroke-width="1.9" stroke-linecap="butt"/>
<circle cx="848.3" cy="2194.9" r="3.9" fill="#3e5daa"/>
<circle cx="840.2" cy="2215.7" r="3.9" fill="#3e5daa"/>
<circle cx="856.6" cy="2221.9" r="3.9" fill="#3e5daa"/>
<circle cx="840.2" cy="2230.4" r="3.9" fill="#3e5daa"/>
<circle cx="848.3" cy="2240.7" r="3.9" fill="#3e5daa"/>
<circle cx="848.3" cy="2266.4" r="3.9" fill="#3e5daa"/>
<line x1="821.90" y1="2228.00" x2="874.50" y2="2228.00" stroke="#000" stroke-width="3.1" stroke-linecap="butt"/>
<line x1="848.30" y1="2218.40" x2="848.30" y2="2238.20" stroke="#000" stroke-width="2.0" stroke-linecap="butt"/>
<line x1="834.80" y1="2218.40" x2="861.70" y2="2218.40" stroke="#000" stroke-width="1.9" stroke-linecap="butt"/>
<line x1="834.80" y1="2238.20" x2="861.70" y2="2238.20" stroke="#000" stroke-width="1.9" stroke-linecap="butt"/>
<line x1="768.00" y1="2161.90" x2="849.30" y2="2161.90" stroke="#000" stroke-width="3.0" stroke-linecap="round"/>
<text x="804.21" y="2159.98" font-size="24" font-weight="bold" fill="#000">*</text>
<line x1="1015.30" y1="2118.15" x2="1015.30" y2="2398.65" stroke="#000" stroke-width="2.9" stroke-linecap="butt"/>
<line x1="1003.10" y1="2397.20" x2="1200.00" y2="2397.20" stroke="#000" stroke-width="2.9" stroke-linecap="butt"/>
<line x1="1003.10" y1="2119.60" x2="1015.30" y2="2119.60" stroke="#000" stroke-width="2.9" stroke-linecap="butt"/>
<text x="968.78" y="2127.62" font-size="22.4" font-weight="bold" fill="#000">1.0</text>
<line x1="1003.10" y1="2175.10" x2="1015.30" y2="2175.10" stroke="#000" stroke-width="2.9" stroke-linecap="butt"/>
<text x="968.55" y="2183.12" font-size="22.4" font-weight="bold" fill="#000">0.8</text>
<line x1="1003.10" y1="2230.60" x2="1015.30" y2="2230.60" stroke="#000" stroke-width="2.9" stroke-linecap="butt"/>
<text x="968.67" y="2238.62" font-size="22.4" font-weight="bold" fill="#000">0.6</text>
<line x1="1003.10" y1="2286.20" x2="1015.30" y2="2286.20" stroke="#000" stroke-width="2.9" stroke-linecap="butt"/>
<text x="967.98" y="2294.22" font-size="22.4" font-weight="bold" fill="#000">0.4</text>
<line x1="1003.10" y1="2341.70" x2="1015.30" y2="2341.70" stroke="#000" stroke-width="2.9" stroke-linecap="butt"/>
<text x="968.76" y="2349.72" font-size="22.4" font-weight="bold" fill="#000">0.2</text>
<line x1="1003.10" y1="2397.20" x2="1015.30" y2="2397.20" stroke="#000" stroke-width="2.9" stroke-linecap="butt"/>
<text x="968.78" y="2405.22" font-size="22.4" font-weight="bold" fill="#000">0.0</text>
<line x1="1067.40" y1="2397.20" x2="1067.40" y2="2408.70" stroke="#000" stroke-width="2.9" stroke-linecap="butt"/>
<line x1="1146.90" y1="2397.20" x2="1146.90" y2="2408.70" stroke="#000" stroke-width="2.9" stroke-linecap="butt"/>
<text transform="translate(1013.04,2486.36) rotate(-45)" font-size="20.55" font-weight="bold" fill="#000">Baseline</text>
<text transform="translate(1093.92,2485.11) rotate(-45)" font-size="20.59" font-weight="bold" fill="#000">4 Weeks</text>
<rect x="1063.10" y="2209.50" width="8.6" height="8.6" fill="#ec3324"/>
<rect x="1055.10" y="2226.10" width="8.6" height="8.6" fill="#ec3324"/>
<rect x="1071.70" y="2222.90" width="8.6" height="8.6" fill="#ec3324"/>
<rect x="1046.50" y="2251.10" width="8.6" height="8.6" fill="#ec3324"/>
<rect x="1063.10" y="2255.20" width="8.6" height="8.6" fill="#ec3324"/>
<rect x="1080.00" y="2254.70" width="8.6" height="8.6" fill="#ec3324"/>
<rect x="1063.10" y="2308.80" width="8.6" height="8.6" fill="#ec3324"/>
<rect x="1063.10" y="2331.00" width="8.6" height="8.6" fill="#ec3324"/>
<rect x="1063.10" y="2393.20" width="8.6" height="8.6" fill="#ec3324"/>
<line x1="1041.50" y1="2276.90" x2="1094.30" y2="2276.90" stroke="#000" stroke-width="3.1" stroke-linecap="butt"/>
<line x1="1067.40" y1="2256.10" x2="1067.40" y2="2296.70" stroke="#000" stroke-width="2.0" stroke-linecap="butt"/>
<line x1="1054.50" y1="2256.10" x2="1081.40" y2="2256.10" stroke="#000" stroke-width="1.9" stroke-linecap="butt"/>
<line x1="1054.50" y1="2296.70" x2="1081.40" y2="2296.70" stroke="#000" stroke-width="1.9" stroke-linecap="butt"/>
<rect x="1134.60" y="2194.80" width="8.6" height="8.6" fill="#ec3324"/>
<rect x="1151.20" y="2189.90" width="8.6" height="8.6" fill="#ec3324"/>
<rect x="1142.60" y="2229.80" width="8.6" height="8.6" fill="#ec3324"/>
<rect x="1142.60" y="2314.90" width="8.6" height="8.6" fill="#ec3324"/>
<rect x="1142.60" y="2330.30" width="8.6" height="8.6" fill="#ec3324"/>
<rect x="1142.60" y="2393.20" width="8.6" height="8.6" fill="#ec3324"/>
<line x1="1121.00" y1="2279.60" x2="1173.60" y2="2279.60" stroke="#000" stroke-width="3.1" stroke-linecap="butt"/>
<line x1="1146.90" y1="2246.30" x2="1146.90" y2="2313.70" stroke="#000" stroke-width="2.0" stroke-linecap="butt"/>
<line x1="1134.00" y1="2246.30" x2="1160.90" y2="2246.30" stroke="#000" stroke-width="1.9" stroke-linecap="butt"/>
<line x1="1134.00" y1="2313.70" x2="1160.90" y2="2313.70" stroke="#000" stroke-width="1.9" stroke-linecap="butt"/>
</svg>
</body></html>
